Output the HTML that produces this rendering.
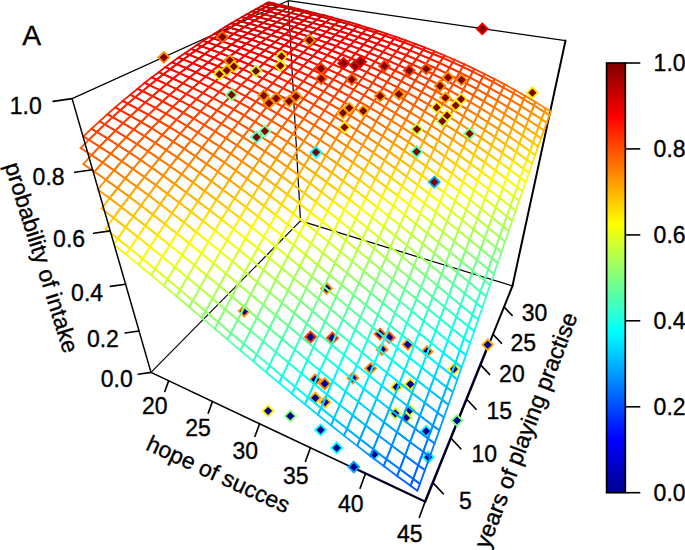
<!DOCTYPE html>
<html><head><meta charset="utf-8"><title>A</title><style>html,body{margin:0;padding:0;background:#fff}</style></head><body><svg width="685" height="550" viewBox="0 0 685 550" style="display:block">
<rect width="685" height="550" fill="#fff"/>
<g id="back">
<line x1="151.0" y1="372.4" x2="300.5" y2="220.9" stroke="#000" stroke-width="1.2" stroke-linecap="butt"/>
<line x1="300.5" y1="220.9" x2="512.5" y2="285.9" stroke="#000" stroke-width="1.2" stroke-linecap="butt"/>
<line x1="300.5" y1="220.9" x2="288.2" y2="0.7" stroke="#000" stroke-width="1.2" stroke-linecap="butt"/>
<line x1="72.1" y1="98.6" x2="288.2" y2="0.7" stroke="#000" stroke-width="1.2" stroke-linecap="butt"/>
<line x1="288.2" y1="0.7" x2="565.5" y2="40.6" stroke="#000" stroke-width="1.2" stroke-linecap="butt"/>
<line x1="512.5" y1="285.9" x2="565.5" y2="40.6" stroke="#000" stroke-width="2.0" stroke-linecap="round"/>
</g>
<g id="axes">
<line x1="354.4" y1="467.6" x2="425.6" y2="501.3" stroke="#00008f" stroke-width="1.2" stroke-linecap="butt"/>
<line x1="424.4" y1="501.7" x2="487.4" y2="345.8" stroke="#00008f" stroke-width="1.3" stroke-linecap="butt"/>
<line x1="151.0" y1="372.4" x2="425.3" y2="502.0" stroke="#000" stroke-width="1.6" stroke-linecap="round"/>
<line x1="425.3" y1="502.0" x2="512.5" y2="285.9" stroke="#000" stroke-width="2.0" stroke-linecap="round"/>
</g>
<g id="bot" stroke-width="1.85" stroke-linejoin="miter">
<path d="M244.2 305.7l5.4 5.4l-5.4 5.4l-5.4 -5.4z" fill="#00008f" stroke="#ff8c00"/>
<path d="M326.6 283.0l5.4 5.4l-5.4 5.4l-5.4 -5.4z" fill="#00008f" stroke="#ff8c00"/>
<path d="M310.6 331.6l5.4 5.4l-5.4 5.4l-5.4 -5.4z" fill="#00008f" stroke="#ff3a00"/>
<path d="M332.4 332.6l5.4 5.4l-5.4 5.4l-5.4 -5.4z" fill="#00008f" stroke="#ff3a00"/>
<path d="M380.0 328.7l5.4 5.4l-5.4 5.4l-5.4 -5.4z" fill="#00008f" stroke="#ff6000"/>
<path d="M389.2 332.1l5.4 5.4l-5.4 5.4l-5.4 -5.4z" fill="#00008f" stroke="#ff6000"/>
<path d="M407.9 339.0l5.4 5.4l-5.4 5.4l-5.4 -5.4z" fill="#00008f" stroke="#ff8c00"/>
<path d="M382.0 344.1l5.4 5.4l-5.4 5.4l-5.4 -5.4z" fill="#00008f" stroke="#ff8c00"/>
<path d="M370.6 363.1l5.4 5.4l-5.4 5.4l-5.4 -5.4z" fill="#00008f" stroke="#ff8c00"/>
<path d="M352.8 372.6l5.4 5.4l-5.4 5.4l-5.4 -5.4z" fill="#00008f" stroke="#ff8c00"/>
<path d="M315.2 374.3l5.4 5.4l-5.4 5.4l-5.4 -5.4z" fill="#00008f" stroke="#ff8c00"/>
<path d="M324.7 378.3l5.4 5.4l-5.4 5.4l-5.4 -5.4z" fill="#00008f" stroke="#ff8c00"/>
<path d="M315.3 392.5l5.4 5.4l-5.4 5.4l-5.4 -5.4z" fill="#00008f" stroke="#ffb000"/>
<path d="M325.1 396.8l5.4 5.4l-5.4 5.4l-5.4 -5.4z" fill="#00008f" stroke="#ffc800"/>
<path d="M396.5 381.7l5.4 5.4l-5.4 5.4l-5.4 -5.4z" fill="#00008f" stroke="#ffee00"/>
<path d="M410.3 378.8l5.4 5.4l-5.4 5.4l-5.4 -5.4z" fill="#00008f" stroke="#ffee00"/>
<path d="M395.3 408.0l5.4 5.4l-5.4 5.4l-5.4 -5.4z" fill="#00008f" stroke="#c8ff32"/>
<path d="M409.8 404.8l5.4 5.4l-5.4 5.4l-5.4 -5.4z" fill="#00008f" stroke="#c8ff32"/>
<path d="M406.0 412.5l5.4 5.4l-5.4 5.4l-5.4 -5.4z" fill="#00008f" stroke="#c8ff32"/>
<path d="M427.1 346.1l5.4 5.4l-5.4 5.4l-5.4 -5.4z" fill="#00008f" stroke="#ff8c00"/>
<path d="M454.0 363.6l5.4 5.4l-5.4 5.4l-5.4 -5.4z" fill="#00008f" stroke="#ffee00"/>
<path d="M487.7 339.4l5.4 5.4l-5.4 5.4l-5.4 -5.4z" fill="#00008f" stroke="#ffb000"/>
<path d="M426.1 425.8l5.4 5.4l-5.4 5.4l-5.4 -5.4z" fill="#00008f" stroke="#00ffff"/>
<path d="M428.2 451.8l5.4 5.4l-5.4 5.4l-5.4 -5.4z" fill="#00008f" stroke="#00ffff"/>
<path d="M457.0 415.1l5.4 5.4l-5.4 5.4l-5.4 -5.4z" fill="#00008f" stroke="#80ff80"/>
<path d="M268.1 405.5l5.4 5.4l-5.4 5.4l-5.4 -5.4z" fill="#00008f" stroke="#ffee00"/>
<path d="M290.3 410.7l5.4 5.4l-5.4 5.4l-5.4 -5.4z" fill="#00008f" stroke="#80ff80"/>
<path d="M320.6 424.5l5.4 5.4l-5.4 5.4l-5.4 -5.4z" fill="#00008f" stroke="#00ffff"/>
<path d="M336.7 442.5l5.4 5.4l-5.4 5.4l-5.4 -5.4z" fill="#00008f" stroke="#00ffff"/>
<path d="M353.8 461.6l5.4 5.4l-5.4 5.4l-5.4 -5.4z" fill="#00008f" stroke="#00a8ff"/>
<path d="M374.3 449.0l5.4 5.4l-5.4 5.4l-5.4 -5.4z" fill="#00008f" stroke="#40ffc8"/>
</g>
<g id="mesh" fill="none" stroke-width="1.8" stroke-linejoin="miter">
<polygon points="83.4,136.4 88.8,139.8 96.9,131.9 91.6,128.7" stroke="#ff4300"/>
<polygon points="91.6,128.7 96.9,131.9 104.8,124.4 99.6,121.3" stroke="#ff3a00"/>
<polygon points="99.6,121.3 104.8,124.4 112.6,117.1 107.5,114.2" stroke="#ff3200"/>
<polygon points="107.5,114.2 112.6,117.1 120.3,110.2 115.2,107.4" stroke="#ff2b00"/>
<polygon points="115.2,107.4 120.3,110.2 127.8,103.6 122.8,100.9" stroke="#ff2400"/>
<polygon points="122.8,100.9 127.8,103.6 135.2,97.2 130.3,94.7" stroke="#ff1d00"/>
<polygon points="130.3,94.7 135.2,97.2 142.5,91.1 137.6,88.7" stroke="#ff1700"/>
<polygon points="137.6,88.7 142.5,91.1 149.6,85.3 144.7,82.9" stroke="#ff1100"/>
<polygon points="144.7,82.9 149.6,85.3 156.6,79.6 151.8,77.4" stroke="#ff0b00"/>
<polygon points="151.8,77.4 156.6,79.6 163.4,74.3 158.7,72.2" stroke="#ff0500"/>
<polygon points="158.7,72.2 163.4,74.3 170.1,69.1 165.4,67.1" stroke="#ff0000"/>
<polygon points="165.4,67.1 170.1,69.1 176.7,64.2 172.0,62.3" stroke="#fb0000"/>
<polygon points="172.0,62.3 176.7,64.2 183.2,59.5 178.5,57.6" stroke="#f60000"/>
<polygon points="178.5,57.6 183.2,59.5 189.5,54.9 184.9,53.2" stroke="#f20000"/>
<polygon points="184.9,53.2 189.5,54.9 195.7,50.6 191.1,48.9" stroke="#ee0000"/>
<polygon points="191.1,48.9 195.7,50.6 201.7,46.4 197.2,44.8" stroke="#ea0000"/>
<polygon points="197.2,44.8 201.7,46.4 207.7,42.4 203.2,40.9" stroke="#e60000"/>
<polygon points="203.2,40.9 207.7,42.4 213.5,38.5 209.1,37.1" stroke="#e30000"/>
<polygon points="209.1,37.1 213.5,38.5 219.2,34.8 214.8,33.4" stroke="#e00000"/>
<polygon points="214.8,33.4 219.2,34.8 224.8,31.2 220.4,29.9" stroke="#dd0000"/>
<polygon points="220.4,29.9 224.8,31.2 230.3,27.8 225.9,26.5" stroke="#da0000"/>
<polygon points="225.9,26.5 230.3,27.8 235.6,24.5 231.3,23.3" stroke="#d80000"/>
<polygon points="231.3,23.3 235.6,24.5 240.9,21.3 236.6,20.2" stroke="#d50000"/>
<polygon points="236.6,20.2 240.9,21.3 246.1,18.2 241.8,17.1" stroke="#d30000"/>
<polygon points="241.8,17.1 246.1,18.2 251.1,15.3 246.9,14.2" stroke="#d10000"/>
<polygon points="246.9,14.2 251.1,15.3 256.0,12.4 251.9,11.4" stroke="#cf0000"/>
<polygon points="251.9,11.4 256.0,12.4 260.9,9.7 256.8,8.7" stroke="#cd0000"/>
<polygon points="256.8,8.7 260.9,9.7 265.6,7.0 261.5,6.1" stroke="#cb0000"/>
<polygon points="261.5,6.1 265.6,7.0 270.3,4.4 266.2,3.5" stroke="#ca0000"/>
<polygon points="266.2,3.5 270.3,4.4 272.6,3.2 268.5,2.3" stroke="#c80000"/>
<polygon points="80.5,148.0 91.5,155.1 99.6,146.7 88.8,139.8" stroke="#ff5700"/>
<polygon points="88.8,139.8 99.6,146.7 107.6,138.5 96.9,131.9" stroke="#ff4e00"/>
<polygon points="96.9,131.9 107.6,138.5 115.4,130.7 104.8,124.4" stroke="#ff4500"/>
<polygon points="104.8,124.4 115.4,130.7 123.1,123.2 112.6,117.1" stroke="#ff3c00"/>
<polygon points="112.6,117.1 123.1,123.2 130.6,116.0 120.3,110.2" stroke="#ff3400"/>
<polygon points="120.3,110.2 130.6,116.0 138.0,109.1 127.8,103.6" stroke="#ff2d00"/>
<polygon points="127.8,103.6 138.0,109.1 145.3,102.5 135.2,97.2" stroke="#ff2500"/>
<polygon points="135.2,97.2 145.3,102.5 152.5,96.1 142.5,91.1" stroke="#ff1f00"/>
<polygon points="142.5,91.1 152.5,96.1 159.5,90.0 149.6,85.3" stroke="#ff1800"/>
<polygon points="149.6,85.3 159.5,90.0 166.4,84.2 156.6,79.6" stroke="#ff1200"/>
<polygon points="156.6,79.6 166.4,84.2 173.1,78.6 163.4,74.3" stroke="#ff0c00"/>
<polygon points="163.4,74.3 173.1,78.6 179.7,73.3 170.1,69.1" stroke="#ff0700"/>
<polygon points="170.1,69.1 179.7,73.3 186.2,68.1 176.7,64.2" stroke="#ff0100"/>
<polygon points="176.7,64.2 186.2,68.1 192.6,63.2 183.2,59.5" stroke="#fc0000"/>
<polygon points="183.2,59.5 192.6,63.2 198.8,58.5 189.5,54.9" stroke="#f70000"/>
<polygon points="189.5,54.9 198.8,58.5 204.9,54.0 195.7,50.6" stroke="#f30000"/>
<polygon points="195.7,50.6 204.9,54.0 210.9,49.6 201.7,46.4" stroke="#ef0000"/>
<polygon points="201.7,46.4 210.9,49.6 216.7,45.5 207.7,42.4" stroke="#eb0000"/>
<polygon points="207.7,42.4 216.7,45.5 222.5,41.5 213.5,38.5" stroke="#e70000"/>
<polygon points="213.5,38.5 222.5,41.5 228.1,37.6 219.2,34.8" stroke="#e40000"/>
<polygon points="219.2,34.8 228.1,37.6 233.6,33.9 224.8,31.2" stroke="#e10000"/>
<polygon points="224.8,31.2 233.6,33.9 239.0,30.4 230.3,27.8" stroke="#de0000"/>
<polygon points="230.3,27.8 239.0,30.4 244.3,27.0 235.6,24.5" stroke="#db0000"/>
<polygon points="235.6,24.5 244.3,27.0 249.5,23.7 240.9,21.3" stroke="#d80000"/>
<polygon points="240.9,21.3 249.5,23.7 254.6,20.5 246.1,18.2" stroke="#d60000"/>
<polygon points="246.1,18.2 254.6,20.5 259.6,17.4 251.1,15.3" stroke="#d40000"/>
<polygon points="251.1,15.3 259.6,17.4 264.5,14.5 256.0,12.4" stroke="#d10000"/>
<polygon points="256.0,12.4 264.5,14.5 269.2,11.6 260.9,9.7" stroke="#cf0000"/>
<polygon points="260.9,9.7 269.2,11.6 273.9,8.9 265.6,7.0" stroke="#ce0000"/>
<polygon points="265.6,7.0 273.9,8.9 278.5,6.2 270.3,4.4" stroke="#cc0000"/>
<polygon points="270.3,4.4 278.5,6.2 280.8,5.0 272.6,3.2" stroke="#ca0000"/>
<polygon points="83.3,164.0 94.5,171.7 102.6,162.6 91.5,155.1" stroke="#ff6d00"/>
<polygon points="91.5,155.1 102.6,162.6 110.6,153.8 99.6,146.7" stroke="#ff6300"/>
<polygon points="99.6,146.7 110.6,153.8 118.4,145.4 107.6,138.5" stroke="#ff5900"/>
<polygon points="107.6,138.5 118.4,145.4 126.1,137.3 115.4,130.7" stroke="#ff5000"/>
<polygon points="115.4,130.7 126.1,137.3 133.7,129.5 123.1,123.2" stroke="#ff4700"/>
<polygon points="123.1,123.2 133.7,129.5 141.1,122.0 130.6,116.0" stroke="#ff3e00"/>
<polygon points="130.6,116.0 141.1,122.0 148.4,114.8 138.0,109.1" stroke="#ff3600"/>
<polygon points="138.0,109.1 148.4,114.8 155.6,108.0 145.3,102.5" stroke="#ff2e00"/>
<polygon points="145.3,102.5 155.6,108.0 162.6,101.4 152.5,96.1" stroke="#ff2700"/>
<polygon points="152.5,96.1 162.6,101.4 169.5,95.0 159.5,90.0" stroke="#ff2000"/>
<polygon points="159.5,90.0 169.5,95.0 176.3,89.0 166.4,84.2" stroke="#ff1a00"/>
<polygon points="166.4,84.2 176.3,89.0 182.9,83.2 173.1,78.6" stroke="#ff1300"/>
<polygon points="173.1,78.6 182.9,83.2 189.4,77.6 179.7,73.3" stroke="#ff0d00"/>
<polygon points="179.7,73.3 189.4,77.6 195.8,72.3 186.2,68.1" stroke="#ff0800"/>
<polygon points="186.2,68.1 195.8,72.3 202.1,67.2 192.6,63.2" stroke="#ff0300"/>
<polygon points="192.6,63.2 202.1,67.2 208.2,62.3 198.8,58.5" stroke="#fd0000"/>
<polygon points="198.8,58.5 208.2,62.3 214.2,57.6 204.9,54.0" stroke="#f80000"/>
<polygon points="204.9,54.0 214.2,57.6 220.1,53.1 210.9,49.6" stroke="#f40000"/>
<polygon points="210.9,49.6 220.1,53.1 225.9,48.7 216.7,45.5" stroke="#f00000"/>
<polygon points="216.7,45.5 225.9,48.7 231.6,44.6 222.5,41.5" stroke="#ec0000"/>
<polygon points="222.5,41.5 231.6,44.6 237.1,40.6 228.1,37.6" stroke="#e80000"/>
<polygon points="228.1,37.6 237.1,40.6 242.6,36.8 233.6,33.9" stroke="#e50000"/>
<polygon points="233.6,33.9 242.6,36.8 247.9,33.1 239.0,30.4" stroke="#e10000"/>
<polygon points="239.0,30.4 247.9,33.1 253.1,29.5 244.3,27.0" stroke="#de0000"/>
<polygon points="244.3,27.0 253.1,29.5 258.2,26.1 249.5,23.7" stroke="#dc0000"/>
<polygon points="249.5,23.7 258.2,26.1 263.2,22.9 254.6,20.5" stroke="#d90000"/>
<polygon points="254.6,20.5 263.2,22.9 268.2,19.7 259.6,17.4" stroke="#d60000"/>
<polygon points="259.6,17.4 268.2,19.7 273.0,16.7 264.5,14.5" stroke="#d40000"/>
<polygon points="264.5,14.5 273.0,16.7 277.7,13.7 269.2,11.6" stroke="#d20000"/>
<polygon points="269.2,11.6 277.7,13.7 282.3,10.9 273.9,8.9" stroke="#d00000"/>
<polygon points="273.9,8.9 282.3,10.9 286.8,8.2 278.5,6.2" stroke="#ce0000"/>
<polygon points="278.5,6.2 286.8,8.2 289.1,6.8 280.8,5.0" stroke="#cc0000"/>
<polygon points="94.5,171.7 106.0,179.8 113.9,170.3 102.6,162.6" stroke="#ff7b00"/>
<polygon points="102.6,162.6 113.9,170.3 121.7,161.3 110.6,153.8" stroke="#ff7000"/>
<polygon points="110.6,153.8 121.7,161.3 129.4,152.5 118.4,145.4" stroke="#ff6500"/>
<polygon points="118.4,145.4 129.4,152.5 137.0,144.1 126.1,137.3" stroke="#ff5b00"/>
<polygon points="126.1,137.3 137.0,144.1 144.4,136.1 133.7,129.5" stroke="#ff5200"/>
<polygon points="133.7,129.5 144.4,136.1 151.7,128.3 141.1,122.0" stroke="#ff4900"/>
<polygon points="141.1,122.0 151.7,128.3 158.9,120.9 148.4,114.8" stroke="#ff4000"/>
<polygon points="148.4,114.8 158.9,120.9 165.9,113.7 155.6,108.0" stroke="#ff3800"/>
<polygon points="155.6,108.0 165.9,113.7 172.8,106.9 162.6,101.4" stroke="#ff3000"/>
<polygon points="162.6,101.4 172.8,106.9 179.6,100.3 169.5,95.0" stroke="#ff2900"/>
<polygon points="169.5,95.0 179.6,100.3 186.3,94.0 176.3,89.0" stroke="#ff2200"/>
<polygon points="176.3,89.0 186.3,94.0 192.8,88.0 182.9,83.2" stroke="#ff1b00"/>
<polygon points="182.9,83.2 192.8,88.0 199.2,82.2 189.4,77.6" stroke="#ff1500"/>
<polygon points="189.4,77.6 199.2,82.2 205.5,76.6 195.8,72.3" stroke="#ff0f00"/>
<polygon points="195.8,72.3 205.5,76.6 211.7,71.3 202.1,67.2" stroke="#ff0900"/>
<polygon points="202.1,67.2 211.7,71.3 217.8,66.2 208.2,62.3" stroke="#ff0400"/>
<polygon points="208.2,62.3 217.8,66.2 223.7,61.3 214.2,57.6" stroke="#fe0000"/>
<polygon points="214.2,57.6 223.7,61.3 229.5,56.7 220.1,53.1" stroke="#f90000"/>
<polygon points="220.1,53.1 229.5,56.7 235.2,52.2 225.9,48.7" stroke="#f50000"/>
<polygon points="225.9,48.7 235.2,52.2 240.8,47.8 231.6,44.6" stroke="#f00000"/>
<polygon points="231.6,44.6 240.8,47.8 246.3,43.7 237.1,40.6" stroke="#ed0000"/>
<polygon points="237.1,40.6 246.3,43.7 251.6,39.7 242.6,36.8" stroke="#e90000"/>
<polygon points="242.6,36.8 251.6,39.7 256.9,35.9 247.9,33.1" stroke="#e50000"/>
<polygon points="247.9,33.1 256.9,35.9 262.0,32.2 253.1,29.5" stroke="#e20000"/>
<polygon points="253.1,29.5 262.0,32.2 267.1,28.7 258.2,26.1" stroke="#df0000"/>
<polygon points="258.2,26.1 267.1,28.7 272.0,25.3 263.2,22.9" stroke="#dc0000"/>
<polygon points="263.2,22.9 272.0,25.3 276.8,22.1 268.2,19.7" stroke="#da0000"/>
<polygon points="268.2,19.7 276.8,22.1 281.6,18.9 273.0,16.7" stroke="#d70000"/>
<polygon points="273.0,16.7 281.6,18.9 286.2,15.9 277.7,13.7" stroke="#d50000"/>
<polygon points="277.7,13.7 286.2,15.9 290.8,13.0 282.3,10.9" stroke="#d20000"/>
<polygon points="282.3,10.9 290.8,13.0 295.3,10.1 286.8,8.2" stroke="#d00000"/>
<polygon points="286.8,8.2 295.3,10.1 297.4,8.8 289.1,6.8" stroke="#ce0000"/>
<polygon points="97.9,189.6 109.6,198.2 117.5,188.1 106.0,179.8" stroke="#ff9400"/>
<polygon points="106.0,179.8 117.5,188.1 125.3,178.4 113.9,170.3" stroke="#ff8900"/>
<polygon points="113.9,170.3 125.3,178.4 133.0,169.0 121.7,161.3" stroke="#ff7d00"/>
<polygon points="121.7,161.3 133.0,169.0 140.5,160.0 129.4,152.5" stroke="#ff7200"/>
<polygon points="129.4,152.5 140.5,160.0 148.0,151.3 137.0,144.1" stroke="#ff6800"/>
<polygon points="137.0,144.1 148.0,151.3 155.3,142.9 144.4,136.1" stroke="#ff5e00"/>
<polygon points="144.4,136.1 155.3,142.9 162.4,134.9 151.7,128.3" stroke="#ff5400"/>
<polygon points="151.7,128.3 162.4,134.9 169.5,127.1 158.9,120.9" stroke="#ff4b00"/>
<polygon points="158.9,120.9 169.5,127.1 176.4,119.7 165.9,113.7" stroke="#ff4200"/>
<polygon points="165.9,113.7 176.4,119.7 183.2,112.6 172.8,106.9" stroke="#ff3a00"/>
<polygon points="172.8,106.9 183.2,112.6 189.9,105.8 179.6,100.3" stroke="#ff3200"/>
<polygon points="179.6,100.3 189.9,105.8 196.4,99.2 186.3,94.0" stroke="#ff2a00"/>
<polygon points="186.3,94.0 196.4,99.2 202.9,93.0 192.8,88.0" stroke="#ff2300"/>
<polygon points="192.8,88.0 202.9,93.0 209.2,87.0 199.2,82.2" stroke="#ff1c00"/>
<polygon points="199.2,82.2 209.2,87.0 215.4,81.2 205.5,76.6" stroke="#ff1600"/>
<polygon points="205.5,76.6 215.4,81.2 221.5,75.7 211.7,71.3" stroke="#ff1000"/>
<polygon points="211.7,71.3 221.5,75.7 227.4,70.4 217.8,66.2" stroke="#ff0a00"/>
<polygon points="217.8,66.2 227.4,70.4 233.3,65.3 223.7,61.3" stroke="#ff0500"/>
<polygon points="223.7,61.3 233.3,65.3 239.0,60.4 229.5,56.7" stroke="#ff0000"/>
<polygon points="229.5,56.7 239.0,60.4 244.6,55.7 235.2,52.2" stroke="#fa0000"/>
<polygon points="235.2,52.2 244.6,55.7 250.1,51.3 240.8,47.8" stroke="#f60000"/>
<polygon points="240.8,47.8 250.1,51.3 255.5,47.0 246.3,43.7" stroke="#f10000"/>
<polygon points="246.3,43.7 255.5,47.0 260.8,42.8 251.6,39.7" stroke="#ed0000"/>
<polygon points="251.6,39.7 260.8,42.8 265.9,38.9 256.9,35.9" stroke="#ea0000"/>
<polygon points="256.9,35.9 265.9,38.9 271.0,35.1 262.0,32.2" stroke="#e60000"/>
<polygon points="262.0,32.2 271.0,35.1 276.0,31.4 267.1,28.7" stroke="#e30000"/>
<polygon points="267.1,28.7 276.0,31.4 280.9,27.9 272.0,25.3" stroke="#e00000"/>
<polygon points="272.0,25.3 280.9,27.9 285.6,24.5 276.8,22.1" stroke="#dd0000"/>
<polygon points="276.8,22.1 285.6,24.5 290.3,21.3 281.6,18.9" stroke="#da0000"/>
<polygon points="281.6,18.9 290.3,21.3 294.9,18.1 286.2,15.9" stroke="#d80000"/>
<polygon points="286.2,15.9 294.9,18.1 299.4,15.1 290.8,13.0" stroke="#d50000"/>
<polygon points="290.8,13.0 299.4,15.1 303.8,12.2 295.3,10.1" stroke="#d30000"/>
<polygon points="295.3,10.1 303.8,12.2 305.9,10.8 297.4,8.8" stroke="#d10000"/>
<polygon points="101.5,208.6 113.5,217.8 121.4,207.1 109.6,198.2" stroke="#ffb100"/>
<polygon points="109.6,198.2 121.4,207.1 129.2,196.7 117.5,188.1" stroke="#ffa400"/>
<polygon points="117.5,188.1 129.2,196.7 136.8,186.7 125.3,178.4" stroke="#ff9700"/>
<polygon points="125.3,178.4 136.8,186.7 144.4,177.0 133.0,169.0" stroke="#ff8b00"/>
<polygon points="133.0,169.0 144.4,177.0 151.8,167.7 140.5,160.0" stroke="#ff8000"/>
<polygon points="140.5,160.0 151.8,167.7 159.1,158.7 148.0,151.3" stroke="#ff7500"/>
<polygon points="148.0,151.3 159.1,158.7 166.2,150.0 155.3,142.9" stroke="#ff6a00"/>
<polygon points="155.3,142.9 166.2,150.0 173.3,141.7 162.4,134.9" stroke="#ff6000"/>
<polygon points="162.4,134.9 173.3,141.7 180.2,133.7 169.5,127.1" stroke="#ff5600"/>
<polygon points="169.5,127.1 180.2,133.7 187.0,126.0 176.4,119.7" stroke="#ff4d00"/>
<polygon points="176.4,119.7 187.0,126.0 193.7,118.6 183.2,112.6" stroke="#ff4400"/>
<polygon points="183.2,112.6 193.7,118.6 200.3,111.5 189.9,105.8" stroke="#ff3c00"/>
<polygon points="189.9,105.8 200.3,111.5 206.7,104.7 196.4,99.2" stroke="#ff3400"/>
<polygon points="196.4,99.2 206.7,104.7 213.1,98.2 202.9,93.0" stroke="#ff2c00"/>
<polygon points="202.9,93.0 213.1,98.2 219.3,92.0 209.2,87.0" stroke="#ff2500"/>
<polygon points="209.2,87.0 219.3,92.0 225.4,86.0 215.4,81.2" stroke="#ff1e00"/>
<polygon points="215.4,81.2 225.4,86.0 231.3,80.2 221.5,75.7" stroke="#ff1800"/>
<polygon points="221.5,75.7 231.3,80.2 237.2,74.7 227.4,70.4" stroke="#ff1100"/>
<polygon points="227.4,70.4 237.2,74.7 243.0,69.4 233.3,65.3" stroke="#ff0c00"/>
<polygon points="233.3,65.3 243.0,69.4 248.6,64.4 239.0,60.4" stroke="#ff0600"/>
<polygon points="239.0,60.4 248.6,64.4 254.1,59.5 244.6,55.7" stroke="#ff0100"/>
<polygon points="244.6,55.7 254.1,59.5 259.5,54.9 250.1,51.3" stroke="#fb0000"/>
<polygon points="250.1,51.3 259.5,54.9 264.8,50.4 255.5,47.0" stroke="#f70000"/>
<polygon points="255.5,47.0 264.8,50.4 270.0,46.1 260.8,42.8" stroke="#f20000"/>
<polygon points="260.8,42.8 270.0,46.1 275.1,42.0 265.9,38.9" stroke="#ee0000"/>
<polygon points="265.9,38.9 275.1,42.0 280.1,38.0 271.0,35.1" stroke="#eb0000"/>
<polygon points="271.0,35.1 280.1,38.0 285.0,34.3 276.0,31.4" stroke="#e70000"/>
<polygon points="276.0,31.4 285.0,34.3 289.8,30.6 280.9,27.9" stroke="#e40000"/>
<polygon points="280.9,27.9 289.8,30.6 294.5,27.1 285.6,24.5" stroke="#e00000"/>
<polygon points="285.6,24.5 294.5,27.1 299.1,23.7 290.3,21.3" stroke="#de0000"/>
<polygon points="290.3,21.3 299.1,23.7 303.6,20.5 294.9,18.1" stroke="#db0000"/>
<polygon points="294.9,18.1 303.6,20.5 308.0,17.4 299.4,15.1" stroke="#d80000"/>
<polygon points="299.4,15.1 308.0,17.4 312.4,14.4 303.8,12.2" stroke="#d60000"/>
<polygon points="303.8,12.2 312.4,14.4 314.5,12.9 305.9,10.8" stroke="#d30000"/>
<polygon points="105.5,228.9 117.7,238.6 125.6,227.3 113.5,217.8" stroke="#ffcf00"/>
<polygon points="113.5,217.8 125.6,227.3 133.3,216.2 121.4,207.1" stroke="#ffc100"/>
<polygon points="121.4,207.1 133.3,216.2 141.0,205.6 129.2,196.7" stroke="#ffb400"/>
<polygon points="129.2,196.7 141.0,205.6 148.5,195.3 136.8,186.7" stroke="#ffa700"/>
<polygon points="136.8,186.7 148.5,195.3 155.9,185.3 144.4,177.0" stroke="#ff9a00"/>
<polygon points="144.4,177.0 155.9,185.3 163.2,175.7 151.8,167.7" stroke="#ff8e00"/>
<polygon points="151.8,167.7 163.2,175.7 170.3,166.4 159.1,158.7" stroke="#ff8200"/>
<polygon points="159.1,158.7 170.3,166.4 177.4,157.4 166.2,150.0" stroke="#ff7700"/>
<polygon points="166.2,150.0 177.4,157.4 184.3,148.8 173.3,141.7" stroke="#ff6c00"/>
<polygon points="173.3,141.7 184.3,148.8 191.1,140.5 180.2,133.7" stroke="#ff6200"/>
<polygon points="180.2,133.7 191.1,140.5 197.8,132.6 187.0,126.0" stroke="#ff5800"/>
<polygon points="187.0,126.0 197.8,132.6 204.3,124.9 193.7,118.6" stroke="#ff4f00"/>
<polygon points="193.7,118.6 204.3,124.9 210.8,117.5 200.3,111.5" stroke="#ff4600"/>
<polygon points="200.3,111.5 210.8,117.5 217.1,110.5 206.7,104.7" stroke="#ff3d00"/>
<polygon points="206.7,104.7 217.1,110.5 223.4,103.7 213.1,98.2" stroke="#ff3500"/>
<polygon points="213.1,98.2 223.4,103.7 229.5,97.2 219.3,92.0" stroke="#ff2e00"/>
<polygon points="219.3,92.0 229.5,97.2 235.5,91.0 225.4,86.0" stroke="#ff2600"/>
<polygon points="225.4,86.0 235.5,91.0 241.3,85.0 231.3,80.2" stroke="#ff2000"/>
<polygon points="231.3,80.2 241.3,85.0 247.1,79.3 237.2,74.7" stroke="#ff1900"/>
<polygon points="237.2,74.7 247.1,79.3 252.8,73.8 243.0,69.4" stroke="#ff1300"/>
<polygon points="243.0,69.4 252.8,73.8 258.3,68.5 248.6,64.4" stroke="#ff0d00"/>
<polygon points="248.6,64.4 258.3,68.5 263.7,63.5 254.1,59.5" stroke="#ff0700"/>
<polygon points="254.1,59.5 263.7,63.5 269.1,58.6 259.5,54.9" stroke="#ff0200"/>
<polygon points="259.5,54.9 269.1,58.6 274.3,54.0 264.8,50.4" stroke="#fc0000"/>
<polygon points="264.8,50.4 274.3,54.0 279.4,49.5 270.0,46.1" stroke="#f80000"/>
<polygon points="270.0,46.1 279.4,49.5 284.4,45.3 275.1,42.0" stroke="#f30000"/>
<polygon points="275.1,42.0 284.4,45.3 289.3,41.2 280.1,38.0" stroke="#ef0000"/>
<polygon points="280.1,38.0 289.3,41.2 294.2,37.2 285.0,34.3" stroke="#eb0000"/>
<polygon points="285.0,34.3 294.2,37.2 298.9,33.4 289.8,30.6" stroke="#e80000"/>
<polygon points="289.8,30.6 298.9,33.4 303.5,29.8 294.5,27.1" stroke="#e40000"/>
<polygon points="294.5,27.1 303.5,29.8 308.0,26.3 299.1,23.7" stroke="#e10000"/>
<polygon points="299.1,23.7 308.0,26.3 312.5,23.0 303.6,20.5" stroke="#de0000"/>
<polygon points="303.6,20.5 312.5,23.0 316.8,19.7 308.0,17.4" stroke="#db0000"/>
<polygon points="308.0,17.4 316.8,19.7 321.1,16.6 312.4,14.4" stroke="#d90000"/>
<polygon points="312.4,14.4 321.1,16.6 323.2,15.1 314.5,12.9" stroke="#d60000"/>
<polygon points="113.7,244.4 126.1,254.5 130.0,248.5 117.7,238.6" stroke="#ffef00"/>
<polygon points="117.7,238.6 130.0,248.5 137.8,236.9 125.6,227.3" stroke="#ffe000"/>
<polygon points="125.6,227.3 137.8,236.9 145.4,225.6 133.3,216.2" stroke="#ffd200"/>
<polygon points="133.3,216.2 145.4,225.6 152.9,214.7 141.0,205.6" stroke="#ffc400"/>
<polygon points="141.0,205.6 152.9,214.7 160.3,204.1 148.5,195.3" stroke="#ffb700"/>
<polygon points="148.5,195.3 160.3,204.1 167.5,193.8 155.9,185.3" stroke="#ffa900"/>
<polygon points="155.9,185.3 167.5,193.8 174.7,183.9 163.2,175.7" stroke="#ff9d00"/>
<polygon points="163.2,175.7 174.7,183.9 181.7,174.3 170.3,166.4" stroke="#ff9100"/>
<polygon points="170.3,166.4 181.7,174.3 188.6,165.1 177.4,157.4" stroke="#ff8500"/>
<polygon points="177.4,157.4 188.6,165.1 195.4,156.2 184.3,148.8" stroke="#ff7a00"/>
<polygon points="184.3,148.8 195.4,156.2 202.1,147.6 191.1,140.5" stroke="#ff6f00"/>
<polygon points="191.1,140.5 202.1,147.6 208.6,139.4 197.8,132.6" stroke="#ff6400"/>
<polygon points="197.8,132.6 208.6,139.4 215.1,131.4 204.3,124.9" stroke="#ff5a00"/>
<polygon points="204.3,124.9 215.1,131.4 221.4,123.8 210.8,117.5" stroke="#ff5100"/>
<polygon points="210.8,117.5 221.4,123.8 227.7,116.5 217.1,110.5" stroke="#ff4800"/>
<polygon points="217.1,110.5 227.7,116.5 233.8,109.4 223.4,103.7" stroke="#ff3f00"/>
<polygon points="223.4,103.7 233.8,109.4 239.8,102.7 229.5,97.2" stroke="#ff3700"/>
<polygon points="229.5,97.2 239.8,102.7 245.7,96.2 235.5,91.0" stroke="#ff2f00"/>
<polygon points="235.5,91.0 245.7,96.2 251.4,90.0 241.3,85.0" stroke="#ff2800"/>
<polygon points="241.3,85.0 251.4,90.0 257.1,84.0 247.1,79.3" stroke="#ff2100"/>
<polygon points="247.1,79.3 257.1,84.0 262.7,78.3 252.8,73.8" stroke="#ff1a00"/>
<polygon points="252.8,73.8 262.7,78.3 268.1,72.9 258.3,68.5" stroke="#ff1400"/>
<polygon points="258.3,68.5 268.1,72.9 273.5,67.6 263.7,63.5" stroke="#ff0e00"/>
<polygon points="263.7,63.5 273.5,67.6 278.7,62.6 269.1,58.6" stroke="#ff0900"/>
<polygon points="269.1,58.6 278.7,62.6 283.9,57.7 274.3,54.0" stroke="#ff0300"/>
<polygon points="274.3,54.0 283.9,57.7 288.9,53.1 279.4,49.5" stroke="#fd0000"/>
<polygon points="279.4,49.5 288.9,53.1 293.8,48.7 284.4,45.3" stroke="#f90000"/>
<polygon points="284.4,45.3 293.8,48.7 298.7,44.4 289.3,41.2" stroke="#f40000"/>
<polygon points="289.3,41.2 298.7,44.4 303.4,40.3 294.2,37.2" stroke="#f00000"/>
<polygon points="294.2,37.2 303.4,40.3 308.1,36.4 298.9,33.4" stroke="#ec0000"/>
<polygon points="298.9,33.4 308.1,36.4 312.6,32.6 303.5,29.8" stroke="#e90000"/>
<polygon points="303.5,29.8 312.6,32.6 317.1,29.0 308.0,26.3" stroke="#e50000"/>
<polygon points="308.0,26.3 317.1,29.0 321.4,25.5 312.5,23.0" stroke="#e20000"/>
<polygon points="312.5,23.0 321.4,25.5 325.7,22.2 316.8,19.7" stroke="#df0000"/>
<polygon points="316.8,19.7 325.7,22.2 329.9,19.0 321.1,16.6" stroke="#dc0000"/>
<polygon points="321.1,16.6 329.9,19.0 332.0,17.4 323.2,15.1" stroke="#d90000"/>
<polygon points="126.1,254.5 138.6,264.7 142.5,258.7 130.0,248.5" stroke="#fcff03"/>
<polygon points="130.0,248.5 142.5,258.7 150.1,246.8 137.8,236.9" stroke="#fff300"/>
<polygon points="137.8,236.9 150.1,246.8 157.5,235.2 145.4,225.6" stroke="#ffe400"/>
<polygon points="145.4,225.6 157.5,235.2 164.9,224.0 152.9,214.7" stroke="#ffd500"/>
<polygon points="152.9,214.7 164.9,224.0 172.1,213.2 160.3,204.1" stroke="#ffc700"/>
<polygon points="160.3,204.1 172.1,213.2 179.2,202.6 167.5,193.8" stroke="#ffba00"/>
<polygon points="167.5,193.8 179.2,202.6 186.3,192.4 174.7,183.9" stroke="#ffac00"/>
<polygon points="174.7,183.9 186.3,192.4 193.1,182.6 181.7,174.3" stroke="#ffa000"/>
<polygon points="181.7,174.3 193.1,182.6 199.9,173.1 188.6,165.1" stroke="#ff9300"/>
<polygon points="188.6,165.1 199.9,173.1 206.6,163.9 195.4,156.2" stroke="#ff8800"/>
<polygon points="195.4,156.2 206.6,163.9 213.2,155.0 202.1,147.6" stroke="#ff7c00"/>
<polygon points="202.1,147.6 213.2,155.0 219.6,146.5 208.6,139.4" stroke="#ff7100"/>
<polygon points="208.6,139.4 219.6,146.5 225.9,138.2 215.1,131.4" stroke="#ff6700"/>
<polygon points="215.1,131.4 225.9,138.2 232.2,130.3 221.4,123.8" stroke="#ff5d00"/>
<polygon points="221.4,123.8 232.2,130.3 238.3,122.7 227.7,116.5" stroke="#ff5300"/>
<polygon points="227.7,116.5 238.3,122.7 244.3,115.4 233.8,109.4" stroke="#ff4a00"/>
<polygon points="233.8,109.4 244.3,115.4 250.2,108.4 239.8,102.7" stroke="#ff4100"/>
<polygon points="239.8,102.7 250.2,108.4 256.0,101.7 245.7,96.2" stroke="#ff3900"/>
<polygon points="245.7,96.2 256.0,101.7 261.7,95.2 251.4,90.0" stroke="#ff3100"/>
<polygon points="251.4,90.0 261.7,95.2 267.2,89.0 257.1,84.0" stroke="#ff2a00"/>
<polygon points="257.1,84.0 267.2,89.0 272.7,83.1 262.7,78.3" stroke="#ff2300"/>
<polygon points="262.7,78.3 272.7,83.1 278.1,77.4 268.1,72.9" stroke="#ff1c00"/>
<polygon points="268.1,72.9 278.1,77.4 283.3,71.9 273.5,67.6" stroke="#ff1600"/>
<polygon points="273.5,67.6 283.3,71.9 288.5,66.7 278.7,62.6" stroke="#ff1000"/>
<polygon points="278.7,62.6 288.5,66.7 293.5,61.7 283.9,57.7" stroke="#ff0a00"/>
<polygon points="283.9,57.7 293.5,61.7 298.5,56.9 288.9,53.1" stroke="#ff0500"/>
<polygon points="288.9,53.1 298.5,56.9 303.3,52.3 293.8,48.7" stroke="#fe0000"/>
<polygon points="293.8,48.7 303.3,52.3 308.1,47.8 298.7,44.4" stroke="#fa0000"/>
<polygon points="298.7,44.4 308.1,47.8 312.8,43.6 303.4,40.3" stroke="#f50000"/>
<polygon points="303.4,40.3 312.8,43.6 317.3,39.5 308.1,36.4" stroke="#f10000"/>
<polygon points="308.1,36.4 317.3,39.5 321.8,35.6 312.6,32.6" stroke="#ed0000"/>
<polygon points="312.6,32.6 321.8,35.6 326.2,31.9 317.1,29.0" stroke="#e90000"/>
<polygon points="317.1,29.0 326.2,31.9 330.5,28.2 321.4,25.5" stroke="#e60000"/>
<polygon points="321.4,25.5 330.5,28.2 334.7,24.8 325.7,22.2" stroke="#e30000"/>
<polygon points="325.7,22.2 334.7,24.8 338.8,21.4 329.9,19.0" stroke="#e00000"/>
<polygon points="329.9,19.0 338.8,21.4 340.8,19.8 332.0,17.4" stroke="#dd0000"/>
<polygon points="138.6,264.7 151.2,275.1 155.0,268.9 142.5,258.7" stroke="#e9ff16"/>
<polygon points="142.5,258.7 155.0,268.9 162.4,256.8 150.1,246.8" stroke="#f9ff06"/>
<polygon points="150.1,246.8 162.4,256.8 169.8,245.1 157.5,235.2" stroke="#fff600"/>
<polygon points="157.5,235.2 169.8,245.1 177.0,233.6 164.9,224.0" stroke="#ffe700"/>
<polygon points="164.9,224.0 177.0,233.6 184.1,222.5 172.1,213.2" stroke="#ffd900"/>
<polygon points="172.1,213.2 184.1,222.5 191.1,211.7 179.2,202.6" stroke="#ffca00"/>
<polygon points="179.2,202.6 191.1,211.7 197.9,201.2 186.3,192.4" stroke="#ffbd00"/>
<polygon points="186.3,192.4 197.9,201.2 204.7,191.1 193.1,182.6" stroke="#ffaf00"/>
<polygon points="193.1,182.6 204.7,191.1 211.4,181.3 199.9,173.1" stroke="#ffa300"/>
<polygon points="199.9,173.1 211.4,181.3 217.9,171.8 206.6,163.9" stroke="#ff9600"/>
<polygon points="206.6,163.9 217.9,171.8 224.4,162.6 213.2,155.0" stroke="#ff8a00"/>
<polygon points="213.2,155.0 224.4,162.6 230.7,153.8 219.6,146.5" stroke="#ff7f00"/>
<polygon points="219.6,146.5 230.7,153.8 236.9,145.3 225.9,138.2" stroke="#ff7400"/>
<polygon points="225.9,138.2 236.9,145.3 243.0,137.1 232.2,130.3" stroke="#ff6900"/>
<polygon points="232.2,130.3 243.0,137.1 249.0,129.3 238.3,122.7" stroke="#ff5f00"/>
<polygon points="238.3,122.7 249.0,129.3 254.9,121.7 244.3,115.4" stroke="#ff5500"/>
<polygon points="244.3,115.4 254.9,121.7 260.7,114.4 250.2,108.4" stroke="#ff4c00"/>
<polygon points="250.2,108.4 260.7,114.4 266.4,107.4 256.0,101.7" stroke="#ff4300"/>
<polygon points="256.0,101.7 266.4,107.4 272.0,100.7 261.7,95.2" stroke="#ff3b00"/>
<polygon points="261.7,95.2 272.0,100.7 277.5,94.3 267.2,89.0" stroke="#ff3300"/>
<polygon points="267.2,89.0 277.5,94.3 282.9,88.1 272.7,83.1" stroke="#ff2b00"/>
<polygon points="272.7,83.1 282.9,88.1 288.1,82.2 278.1,77.4" stroke="#ff2400"/>
<polygon points="278.1,77.4 288.1,82.2 293.3,76.5 283.3,71.9" stroke="#ff1d00"/>
<polygon points="283.3,71.9 293.3,76.5 298.4,71.1 288.5,66.7" stroke="#ff1700"/>
<polygon points="288.5,66.7 298.4,71.1 303.3,65.8 293.5,61.7" stroke="#ff1100"/>
<polygon points="293.5,61.7 303.3,65.8 308.2,60.8 298.5,56.9" stroke="#ff0b00"/>
<polygon points="298.5,56.9 308.2,60.8 313.0,56.0 303.3,52.3" stroke="#ff0600"/>
<polygon points="303.3,52.3 313.0,56.0 317.6,51.4 308.1,47.8" stroke="#ff0100"/>
<polygon points="308.1,47.8 317.6,51.4 322.2,47.0 312.8,43.6" stroke="#fb0000"/>
<polygon points="312.8,43.6 322.2,47.0 326.7,42.8 317.3,39.5" stroke="#f60000"/>
<polygon points="317.3,39.5 326.7,42.8 331.1,38.7 321.8,35.6" stroke="#f20000"/>
<polygon points="321.8,35.6 331.1,38.7 335.4,34.8 326.2,31.9" stroke="#ee0000"/>
<polygon points="326.2,31.9 335.4,34.8 339.6,31.1 330.5,28.2" stroke="#ea0000"/>
<polygon points="330.5,28.2 339.6,31.1 343.8,27.5 334.7,24.8" stroke="#e70000"/>
<polygon points="334.7,24.8 343.8,27.5 347.8,24.0 338.8,21.4" stroke="#e30000"/>
<polygon points="338.8,21.4 347.8,24.0 349.8,22.3 340.8,19.8" stroke="#e00000"/>
<polygon points="151.2,275.1 163.8,285.6 167.5,279.4 155.0,268.9" stroke="#d5ff2a"/>
<polygon points="155.0,268.9 167.5,279.4 174.9,267.1 162.4,256.8" stroke="#e5ff1a"/>
<polygon points="162.4,256.8 174.9,267.1 182.1,255.1 169.8,245.1" stroke="#f5ff0a"/>
<polygon points="169.8,245.1 182.1,255.1 189.1,243.4 177.0,233.6" stroke="#fffa00"/>
<polygon points="177.0,233.6 189.1,243.4 196.1,232.0 184.1,222.5" stroke="#ffeb00"/>
<polygon points="184.1,222.5 196.1,232.0 203.0,220.9 191.1,211.7" stroke="#ffdc00"/>
<polygon points="191.1,211.7 203.0,220.9 209.7,210.2 197.9,201.2" stroke="#ffce00"/>
<polygon points="197.9,201.2 209.7,210.2 216.4,199.8 204.7,191.1" stroke="#ffc000"/>
<polygon points="204.7,191.1 216.4,199.8 222.9,189.7 211.4,181.3" stroke="#ffb200"/>
<polygon points="211.4,181.3 222.9,189.7 229.3,180.0 217.9,171.8" stroke="#ffa500"/>
<polygon points="217.9,171.8 229.3,180.0 235.7,170.6 224.4,162.6" stroke="#ff9900"/>
<polygon points="224.4,162.6 235.7,170.6 241.9,161.5 230.7,153.8" stroke="#ff8d00"/>
<polygon points="230.7,153.8 241.9,161.5 248.0,152.7 236.9,145.3" stroke="#ff8100"/>
<polygon points="236.9,145.3 248.0,152.7 254.0,144.2 243.0,137.1" stroke="#ff7600"/>
<polygon points="243.0,137.1 254.0,144.2 259.9,136.1 249.0,129.3" stroke="#ff6b00"/>
<polygon points="249.0,129.3 259.9,136.1 265.7,128.2 254.9,121.7" stroke="#ff6100"/>
<polygon points="254.9,121.7 265.7,128.2 271.4,120.7 260.7,114.4" stroke="#ff5700"/>
<polygon points="260.7,114.4 271.4,120.7 276.9,113.4 266.4,107.4" stroke="#ff4e00"/>
<polygon points="266.4,107.4 276.9,113.4 282.4,106.5 272.0,100.7" stroke="#ff4500"/>
<polygon points="272.0,100.7 282.4,106.5 287.8,99.8 277.5,94.3" stroke="#ff3d00"/>
<polygon points="277.5,94.3 287.8,99.8 293.1,93.3 282.9,88.1" stroke="#ff3500"/>
<polygon points="282.9,88.1 293.1,93.3 298.3,87.2 288.1,82.2" stroke="#ff2d00"/>
<polygon points="288.1,82.2 298.3,87.2 303.3,81.3 293.3,76.5" stroke="#ff2600"/>
<polygon points="293.3,76.5 303.3,81.3 308.3,75.6 298.4,71.1" stroke="#ff1f00"/>
<polygon points="298.4,71.1 308.3,75.6 313.2,70.2 303.3,65.8" stroke="#ff1800"/>
<polygon points="303.3,65.8 313.2,70.2 318.0,65.0 308.2,60.8" stroke="#ff1200"/>
<polygon points="308.2,60.8 318.0,65.0 322.7,60.0 313.0,56.0" stroke="#ff0c00"/>
<polygon points="313.0,56.0 322.7,60.0 327.3,55.2 317.6,51.4" stroke="#ff0700"/>
<polygon points="317.6,51.4 327.3,55.2 331.8,50.6 322.2,47.0" stroke="#ff0200"/>
<polygon points="322.2,47.0 331.8,50.6 336.2,46.2 326.7,42.8" stroke="#fc0000"/>
<polygon points="326.7,42.8 336.2,46.2 340.5,42.0 331.1,38.7" stroke="#f70000"/>
<polygon points="331.1,38.7 340.5,42.0 344.7,37.9 335.4,34.8" stroke="#f30000"/>
<polygon points="335.4,34.8 344.7,37.9 348.9,34.1 339.6,31.1" stroke="#ef0000"/>
<polygon points="339.6,31.1 348.9,34.1 352.9,30.3 343.8,27.5" stroke="#eb0000"/>
<polygon points="343.8,27.5 352.9,30.3 356.9,26.7 347.8,24.0" stroke="#e70000"/>
<polygon points="347.8,24.0 356.9,26.7 358.9,25.0 349.8,22.3" stroke="#e40000"/>
<polygon points="163.8,285.6 176.5,296.3 180.1,289.9 167.5,279.4" stroke="#c1ff3e"/>
<polygon points="167.5,279.4 180.1,289.9 187.3,277.4 174.9,267.1" stroke="#d2ff2d"/>
<polygon points="174.9,267.1 187.3,277.4 194.4,265.2 182.1,255.1" stroke="#e2ff1d"/>
<polygon points="182.1,255.1 194.4,265.2 201.4,253.3 189.1,243.4" stroke="#f2ff0d"/>
<polygon points="189.1,243.4 201.4,253.3 208.2,241.7 196.1,232.0" stroke="#fffd00"/>
<polygon points="196.1,232.0 208.2,241.7 215.0,230.4 203.0,220.9" stroke="#ffee00"/>
<polygon points="203.0,220.9 215.0,230.4 221.6,219.4 209.7,210.2" stroke="#ffdf00"/>
<polygon points="209.7,210.2 221.6,219.4 228.1,208.8 216.4,199.8" stroke="#ffd100"/>
<polygon points="216.4,199.8 228.1,208.8 234.5,198.4 222.9,189.7" stroke="#ffc300"/>
<polygon points="222.9,189.7 234.5,198.4 240.8,188.4 229.3,180.0" stroke="#ffb500"/>
<polygon points="229.3,180.0 240.8,188.4 247.0,178.7 235.7,170.6" stroke="#ffa800"/>
<polygon points="235.7,170.6 247.0,178.7 253.1,169.3 241.9,161.5" stroke="#ff9c00"/>
<polygon points="241.9,161.5 253.1,169.3 259.1,160.3 248.0,152.7" stroke="#ff9000"/>
<polygon points="248.0,152.7 259.1,160.3 265.0,151.5 254.0,144.2" stroke="#ff8400"/>
<polygon points="254.0,144.2 265.0,151.5 270.8,143.1 259.9,136.1" stroke="#ff7900"/>
<polygon points="259.9,136.1 270.8,143.1 276.5,135.0 265.7,128.2" stroke="#ff6e00"/>
<polygon points="265.7,128.2 276.5,135.0 282.1,127.2 271.4,120.7" stroke="#ff6400"/>
<polygon points="271.4,120.7 282.1,127.2 287.6,119.7 276.9,113.4" stroke="#ff5a00"/>
<polygon points="276.9,113.4 287.6,119.7 293.0,112.4 282.4,106.5" stroke="#ff5000"/>
<polygon points="282.4,106.5 293.0,112.4 298.2,105.5 287.8,99.8" stroke="#ff4700"/>
<polygon points="287.8,99.8 298.2,105.5 303.4,98.8 293.1,93.3" stroke="#ff3f00"/>
<polygon points="293.1,93.3 303.4,98.8 308.5,92.4 298.3,87.2" stroke="#ff3700"/>
<polygon points="298.3,87.2 308.5,92.4 313.5,86.3 303.3,81.3" stroke="#ff2f00"/>
<polygon points="303.3,81.3 313.5,86.3 318.4,80.4 308.3,75.6" stroke="#ff2700"/>
<polygon points="308.3,75.6 318.4,80.4 323.2,74.8 313.2,70.2" stroke="#ff2000"/>
<polygon points="313.2,70.2 323.2,74.8 327.9,69.3 318.0,65.0" stroke="#ff1a00"/>
<polygon points="318.0,65.0 327.9,69.3 332.5,64.1 322.7,60.0" stroke="#ff1400"/>
<polygon points="322.7,60.0 332.5,64.1 337.0,59.2 327.3,55.2" stroke="#ff0e00"/>
<polygon points="327.3,55.2 337.0,59.2 341.4,54.4 331.8,50.6" stroke="#ff0800"/>
<polygon points="331.8,50.6 341.4,54.4 345.7,49.8 336.2,46.2" stroke="#ff0300"/>
<polygon points="336.2,46.2 345.7,49.8 350.0,45.4 340.5,42.0" stroke="#fd0000"/>
<polygon points="340.5,42.0 350.0,45.4 354.1,41.2 344.7,37.9" stroke="#f80000"/>
<polygon points="344.7,37.9 354.1,41.2 358.2,37.2 348.9,34.1" stroke="#f40000"/>
<polygon points="348.9,34.1 358.2,37.2 362.2,33.3 352.9,30.3" stroke="#f00000"/>
<polygon points="352.9,30.3 362.2,33.3 366.1,29.6 356.9,26.7" stroke="#ec0000"/>
<polygon points="356.9,26.7 366.1,29.6 368.0,27.8 358.9,25.0" stroke="#e80000"/>
<polygon points="176.5,296.3 189.2,307.0 192.8,300.6 180.1,289.9" stroke="#adff52"/>
<polygon points="180.1,289.9 192.8,300.6 199.9,287.9 187.3,277.4" stroke="#beff41"/>
<polygon points="187.3,277.4 199.9,287.9 206.8,275.5 194.4,265.2" stroke="#ceff31"/>
<polygon points="194.4,265.2 206.8,275.5 213.7,263.4 201.4,253.3" stroke="#deff21"/>
<polygon points="201.4,253.3 213.7,263.4 220.4,251.6 208.2,241.7" stroke="#eeff11"/>
<polygon points="208.2,241.7 220.4,251.6 227.0,240.1 215.0,230.4" stroke="#fdff02"/>
<polygon points="215.0,230.4 227.0,240.1 233.5,228.9 221.6,219.4" stroke="#fff100"/>
<polygon points="221.6,219.4 233.5,228.9 239.9,218.0 228.1,208.8" stroke="#ffe300"/>
<polygon points="228.1,208.8 239.9,218.0 246.2,207.4 234.5,198.4" stroke="#ffd400"/>
<polygon points="234.5,198.4 246.2,207.4 252.4,197.1 240.8,188.4" stroke="#ffc600"/>
<polygon points="240.8,188.4 252.4,197.1 258.5,187.1 247.0,178.7" stroke="#ffb800"/>
<polygon points="247.0,178.7 258.5,187.1 264.5,177.5 253.1,169.3" stroke="#ffab00"/>
<polygon points="253.1,169.3 264.5,177.5 270.4,168.1 259.1,160.3" stroke="#ff9f00"/>
<polygon points="259.1,160.3 270.4,168.1 276.2,159.1 265.0,151.5" stroke="#ff9200"/>
<polygon points="265.0,151.5 276.2,159.1 281.8,150.4 270.8,143.1" stroke="#ff8700"/>
<polygon points="270.8,143.1 281.8,150.4 287.4,142.0 276.5,135.0" stroke="#ff7b00"/>
<polygon points="276.5,135.0 287.4,142.0 292.9,134.0 282.1,127.2" stroke="#ff7000"/>
<polygon points="282.1,127.2 292.9,134.0 298.3,126.2 287.6,119.7" stroke="#ff6600"/>
<polygon points="287.6,119.7 298.3,126.2 303.6,118.7 293.0,112.4" stroke="#ff5c00"/>
<polygon points="293.0,112.4 303.6,118.7 308.8,111.5 298.2,105.5" stroke="#ff5200"/>
<polygon points="298.2,105.5 308.8,111.5 313.9,104.6 303.4,98.8" stroke="#ff4900"/>
<polygon points="303.4,98.8 313.9,104.6 318.9,97.9 308.5,92.4" stroke="#ff4100"/>
<polygon points="308.5,92.4 318.9,97.9 323.7,91.5 313.5,86.3" stroke="#ff3800"/>
<polygon points="313.5,86.3 323.7,91.5 328.6,85.4 318.4,80.4" stroke="#ff3100"/>
<polygon points="318.4,80.4 328.6,85.4 333.3,79.5 323.2,74.8" stroke="#ff2900"/>
<polygon points="323.2,74.8 333.3,79.5 337.9,73.9 327.9,69.3" stroke="#ff2200"/>
<polygon points="327.9,69.3 337.9,73.9 342.4,68.5 332.5,64.1" stroke="#ff1b00"/>
<polygon points="332.5,64.1 342.4,68.5 346.8,63.3 337.0,59.2" stroke="#ff1500"/>
<polygon points="337.0,59.2 346.8,63.3 351.2,58.3 341.4,54.4" stroke="#ff0f00"/>
<polygon points="341.4,54.4 351.2,58.3 355.4,53.6 345.7,49.8" stroke="#ff0900"/>
<polygon points="345.7,49.8 355.4,53.6 359.6,49.0 350.0,45.4" stroke="#ff0400"/>
<polygon points="350.0,45.4 359.6,49.0 363.6,44.6 354.1,41.2" stroke="#fe0000"/>
<polygon points="354.1,41.2 363.6,44.6 367.6,40.4 358.2,37.2" stroke="#f90000"/>
<polygon points="358.2,37.2 367.6,40.4 371.5,36.4 362.2,33.3" stroke="#f50000"/>
<polygon points="362.2,33.3 371.5,36.4 375.4,32.5 366.1,29.6" stroke="#f10000"/>
<polygon points="366.1,29.6 375.4,32.5 377.3,30.7 368.0,27.8" stroke="#ed0000"/>
<polygon points="189.2,307.0 202.0,317.9 205.5,311.3 192.8,300.6" stroke="#99ff66"/>
<polygon points="192.8,300.6 205.5,311.3 212.5,298.5 199.9,287.9" stroke="#a9ff56"/>
<polygon points="199.9,287.9 212.5,298.5 219.3,285.9 206.8,275.5" stroke="#baff45"/>
<polygon points="206.8,275.5 219.3,285.9 226.0,273.6 213.7,263.4" stroke="#caff35"/>
<polygon points="213.7,263.4 226.0,273.6 232.6,261.6 220.4,251.6" stroke="#daff25"/>
<polygon points="220.4,251.6 232.6,261.6 239.1,249.9 227.0,240.1" stroke="#eaff15"/>
<polygon points="227.0,240.1 239.1,249.9 245.5,238.5 233.5,228.9" stroke="#faff05"/>
<polygon points="233.5,228.9 245.5,238.5 251.8,227.3 239.9,218.0" stroke="#fff500"/>
<polygon points="239.9,218.0 251.8,227.3 258.0,216.5 246.2,207.4" stroke="#ffe600"/>
<polygon points="246.2,207.4 258.0,216.5 264.1,206.0 252.4,197.1" stroke="#ffd700"/>
<polygon points="252.4,197.1 264.1,206.0 270.0,195.8 258.5,187.1" stroke="#ffc900"/>
<polygon points="258.5,187.1 270.0,195.8 275.9,185.9 264.5,177.5" stroke="#ffbc00"/>
<polygon points="264.5,177.5 275.9,185.9 281.7,176.3 270.4,168.1" stroke="#ffae00"/>
<polygon points="270.4,168.1 281.7,176.3 287.4,167.0 276.2,159.1" stroke="#ffa100"/>
<polygon points="276.2,159.1 287.4,167.0 292.9,158.0 281.8,150.4" stroke="#ff9500"/>
<polygon points="281.8,150.4 292.9,158.0 298.4,149.3 287.4,142.0" stroke="#ff8900"/>
<polygon points="287.4,142.0 298.4,149.3 303.8,141.0 292.9,134.0" stroke="#ff7e00"/>
<polygon points="292.9,134.0 303.8,141.0 309.1,132.9 298.3,126.2" stroke="#ff7300"/>
<polygon points="298.3,126.2 309.1,132.9 314.3,125.2 303.6,118.7" stroke="#ff6800"/>
<polygon points="303.6,118.7 314.3,125.2 319.4,117.7 308.8,111.5" stroke="#ff5e00"/>
<polygon points="308.8,111.5 319.4,117.7 324.4,110.5 313.9,104.6" stroke="#ff5400"/>
<polygon points="313.9,104.6 324.4,110.5 329.3,103.6 318.9,97.9" stroke="#ff4b00"/>
<polygon points="318.9,97.9 329.3,103.6 334.1,97.0 323.7,91.5" stroke="#ff4300"/>
<polygon points="323.7,91.5 334.1,97.0 338.8,90.6 328.6,85.4" stroke="#ff3a00"/>
<polygon points="328.6,85.4 338.8,90.6 343.4,84.5 333.3,79.5" stroke="#ff3200"/>
<polygon points="333.3,79.5 343.4,84.5 347.9,78.7 337.9,73.9" stroke="#ff2b00"/>
<polygon points="337.9,73.9 347.9,78.7 352.4,73.1 342.4,68.5" stroke="#ff2400"/>
<polygon points="342.4,68.5 352.4,73.1 356.7,67.7 346.8,63.3" stroke="#ff1d00"/>
<polygon points="346.8,63.3 356.7,67.7 361.0,62.5 351.2,58.3" stroke="#ff1600"/>
<polygon points="351.2,58.3 361.0,62.5 365.2,57.5 355.4,53.6" stroke="#ff1000"/>
<polygon points="355.4,53.6 365.2,57.5 369.2,52.8 359.6,49.0" stroke="#ff0b00"/>
<polygon points="359.6,49.0 369.2,52.8 373.2,48.2 363.6,44.6" stroke="#ff0500"/>
<polygon points="363.6,44.6 373.2,48.2 377.2,43.9 367.6,40.4" stroke="#ff0000"/>
<polygon points="367.6,40.4 377.2,43.9 381.0,39.7 371.5,36.4" stroke="#fa0000"/>
<polygon points="371.5,36.4 381.0,39.7 384.8,35.7 375.4,32.5" stroke="#f60000"/>
<polygon points="375.4,32.5 384.8,35.7 386.6,33.7 377.3,30.7" stroke="#f20000"/>
<polygon points="202.0,317.9 214.8,328.7 218.2,322.1 205.5,311.3" stroke="#84ff7b"/>
<polygon points="205.5,311.3 218.2,322.1 225.1,309.2 212.5,298.5" stroke="#95ff6a"/>
<polygon points="212.5,298.5 225.1,309.2 231.8,296.5 219.3,285.9" stroke="#a5ff5a"/>
<polygon points="219.3,285.9 231.8,296.5 238.4,284.0 226.0,273.6" stroke="#b6ff49"/>
<polygon points="226.0,273.6 238.4,284.0 244.9,271.8 232.6,261.6" stroke="#c7ff38"/>
<polygon points="232.6,261.6 244.9,271.8 251.3,259.9 239.1,249.9" stroke="#d7ff28"/>
<polygon points="239.1,249.9 251.3,259.9 257.6,248.3 245.5,238.5" stroke="#e7ff18"/>
<polygon points="245.5,238.5 257.6,248.3 263.7,236.9 251.8,227.3" stroke="#f6ff09"/>
<polygon points="251.8,227.3 263.7,236.9 269.8,225.9 258.0,216.5" stroke="#fff800"/>
<polygon points="258.0,216.5 269.8,225.9 275.8,215.1 264.1,206.0" stroke="#ffe900"/>
<polygon points="264.1,206.0 275.8,215.1 281.6,204.6 270.0,195.8" stroke="#ffdb00"/>
<polygon points="270.0,195.8 281.6,204.6 287.4,194.5 275.9,185.9" stroke="#ffcc00"/>
<polygon points="275.9,185.9 287.4,194.5 293.1,184.6 281.7,176.3" stroke="#ffbf00"/>
<polygon points="281.7,176.3 293.1,184.6 298.6,175.1 287.4,167.0" stroke="#ffb100"/>
<polygon points="287.4,167.0 298.6,175.1 304.1,165.8 292.9,158.0" stroke="#ffa400"/>
<polygon points="292.9,158.0 304.1,165.8 309.5,156.9 298.4,149.3" stroke="#ff9800"/>
<polygon points="298.4,149.3 309.5,156.9 314.8,148.3 303.8,141.0" stroke="#ff8c00"/>
<polygon points="303.8,141.0 314.8,148.3 320.0,140.0 309.1,132.9" stroke="#ff8000"/>
<polygon points="309.1,132.9 320.0,140.0 325.1,131.9 314.3,125.2" stroke="#ff7500"/>
<polygon points="314.3,125.2 325.1,131.9 330.1,124.2 319.4,117.7" stroke="#ff6b00"/>
<polygon points="319.4,117.7 330.1,124.2 335.0,116.8 324.4,110.5" stroke="#ff6000"/>
<polygon points="324.4,110.5 335.0,116.8 339.8,109.6 329.3,103.6" stroke="#ff5700"/>
<polygon points="329.3,103.6 339.8,109.6 344.5,102.7 334.1,97.0" stroke="#ff4d00"/>
<polygon points="334.1,97.0 344.5,102.7 349.1,96.1 338.8,90.6" stroke="#ff4400"/>
<polygon points="338.8,90.6 349.1,96.1 353.7,89.8 343.4,84.5" stroke="#ff3c00"/>
<polygon points="343.4,84.5 353.7,89.8 358.1,83.7 347.9,78.7" stroke="#ff3400"/>
<polygon points="347.9,78.7 358.1,83.7 362.5,77.8 352.4,73.1" stroke="#ff2c00"/>
<polygon points="352.4,73.1 362.5,77.8 366.7,72.2 356.7,67.7" stroke="#ff2500"/>
<polygon points="356.7,67.7 366.7,72.2 370.9,66.9 361.0,62.5" stroke="#ff1e00"/>
<polygon points="361.0,62.5 370.9,66.9 375.0,61.7 365.2,57.5" stroke="#ff1800"/>
<polygon points="365.2,57.5 375.0,61.7 379.0,56.8 369.2,52.8" stroke="#ff1200"/>
<polygon points="369.2,52.8 379.0,56.8 382.9,52.0 373.2,48.2" stroke="#ff0c00"/>
<polygon points="373.2,48.2 382.9,52.0 386.8,47.5 377.2,43.9" stroke="#ff0600"/>
<polygon points="377.2,43.9 386.8,47.5 390.5,43.1 381.0,39.7" stroke="#ff0100"/>
<polygon points="381.0,39.7 390.5,43.1 394.2,38.9 384.8,35.7" stroke="#fb0000"/>
<polygon points="384.8,35.7 394.2,38.9 396.0,36.9 386.6,33.7" stroke="#f70000"/>
<polygon points="214.8,328.7 227.6,339.6 231.0,333.0 218.2,322.1" stroke="#6fff90"/>
<polygon points="218.2,322.1 231.0,333.0 237.7,319.9 225.1,309.2" stroke="#80ff7f"/>
<polygon points="225.1,309.2 237.7,319.9 244.3,307.0 231.8,296.5" stroke="#91ff6e"/>
<polygon points="231.8,296.5 244.3,307.0 250.8,294.4 238.4,284.0" stroke="#a2ff5d"/>
<polygon points="238.4,284.0 250.8,294.4 257.2,282.1 244.9,271.8" stroke="#b2ff4d"/>
<polygon points="244.9,271.8 257.2,282.1 263.5,270.0 251.3,259.9" stroke="#c3ff3c"/>
<polygon points="251.3,259.9 263.5,270.0 269.6,258.2 257.6,248.3" stroke="#d3ff2c"/>
<polygon points="257.6,248.3 269.6,258.2 275.7,246.6 263.7,236.9" stroke="#e3ff1c"/>
<polygon points="263.7,236.9 275.7,246.6 281.7,235.4 269.8,225.9" stroke="#f3ff0c"/>
<polygon points="269.8,225.9 281.7,235.4 287.5,224.4 275.8,215.1" stroke="#fffc00"/>
<polygon points="275.8,215.1 287.5,224.4 293.3,213.7 281.6,204.6" stroke="#ffed00"/>
<polygon points="281.6,204.6 293.3,213.7 299.0,203.3 287.4,194.5" stroke="#ffde00"/>
<polygon points="287.4,194.5 299.0,203.3 304.5,193.2 293.1,184.6" stroke="#ffd000"/>
<polygon points="293.1,184.6 304.5,193.2 310.0,183.4 298.6,175.1" stroke="#ffc200"/>
<polygon points="298.6,175.1 310.0,183.4 315.4,173.9 304.1,165.8" stroke="#ffb400"/>
<polygon points="304.1,165.8 315.4,173.9 320.6,164.7 309.5,156.9" stroke="#ffa700"/>
<polygon points="309.5,156.9 320.6,164.7 325.8,155.8 314.8,148.3" stroke="#ff9b00"/>
<polygon points="314.8,148.3 325.8,155.8 330.9,147.2 320.0,140.0" stroke="#ff8f00"/>
<polygon points="320.0,140.0 330.9,147.2 335.9,139.0 325.1,131.9" stroke="#ff8300"/>
<polygon points="325.1,131.9 335.9,139.0 340.8,131.0 330.1,124.2" stroke="#ff7800"/>
<polygon points="330.1,124.2 340.8,131.0 345.7,123.3 335.0,116.8" stroke="#ff6d00"/>
<polygon points="335.0,116.8 345.7,123.3 350.4,115.8 339.8,109.6" stroke="#ff6300"/>
<polygon points="339.8,109.6 350.4,115.8 355.0,108.7 344.5,102.7" stroke="#ff5900"/>
<polygon points="344.5,102.7 355.0,108.7 359.6,101.9 349.1,96.1" stroke="#ff4f00"/>
<polygon points="349.1,96.1 359.6,101.9 364.0,95.3 353.7,89.8" stroke="#ff4600"/>
<polygon points="353.7,89.8 364.0,95.3 368.4,88.9 358.1,83.7" stroke="#ff3e00"/>
<polygon points="358.1,83.7 368.4,88.9 372.6,82.9 362.5,77.8" stroke="#ff3600"/>
<polygon points="362.5,77.8 372.6,82.9 376.8,77.0 366.7,72.2" stroke="#ff2e00"/>
<polygon points="366.7,72.2 376.8,77.0 380.9,71.4 370.9,66.9" stroke="#ff2700"/>
<polygon points="370.9,66.9 380.9,71.4 384.9,66.1 375.0,61.7" stroke="#ff2000"/>
<polygon points="375.0,61.7 384.9,66.1 388.9,60.9 379.0,56.8" stroke="#ff1900"/>
<polygon points="379.0,56.8 388.9,60.9 392.7,56.0 382.9,52.0" stroke="#ff1300"/>
<polygon points="382.9,52.0 392.7,56.0 396.5,51.3 386.8,47.5" stroke="#ff0d00"/>
<polygon points="386.8,47.5 396.5,51.3 400.2,46.7 390.5,43.1" stroke="#ff0800"/>
<polygon points="390.5,43.1 400.2,46.7 403.8,42.4 394.2,38.9" stroke="#ff0200"/>
<polygon points="394.2,38.9 403.8,42.4 405.6,40.3 396.0,36.9" stroke="#fd0000"/>
<polygon points="227.6,339.6 240.4,350.5 243.8,343.8 231.0,333.0" stroke="#5affa5"/>
<polygon points="231.0,333.0 243.8,343.8 250.4,330.6 237.7,319.9" stroke="#6bff94"/>
<polygon points="237.7,319.9 250.4,330.6 256.9,317.7 244.3,307.0" stroke="#7cff83"/>
<polygon points="244.3,307.0 256.9,317.7 263.3,304.9 250.8,294.4" stroke="#8dff72"/>
<polygon points="250.8,294.4 263.3,304.9 269.6,292.4 257.2,282.1" stroke="#9eff61"/>
<polygon points="257.2,282.1 269.6,292.4 275.7,280.2 263.5,270.0" stroke="#afff50"/>
<polygon points="263.5,270.0 275.7,280.2 281.8,268.2 269.6,258.2" stroke="#bfff40"/>
<polygon points="269.6,258.2 281.8,268.2 287.7,256.5 275.7,246.6" stroke="#cfff30"/>
<polygon points="275.7,246.6 287.7,256.5 293.6,245.0 281.7,235.4" stroke="#e0ff1f"/>
<polygon points="281.7,235.4 293.6,245.0 299.3,233.9 287.5,224.4" stroke="#efff10"/>
<polygon points="287.5,224.4 299.3,233.9 305.0,223.0 293.3,213.7" stroke="#ffff00"/>
<polygon points="293.3,213.7 305.0,223.0 310.5,212.3 299.0,203.3" stroke="#fff000"/>
<polygon points="299.0,203.3 310.5,212.3 316.0,202.0 304.5,193.2" stroke="#ffe100"/>
<polygon points="304.5,193.2 316.0,202.0 321.4,192.0 310.0,183.4" stroke="#ffd300"/>
<polygon points="310.0,183.4 321.4,192.0 326.7,182.2 315.4,173.9" stroke="#ffc500"/>
<polygon points="315.4,173.9 326.7,182.2 331.9,172.8 320.6,164.7" stroke="#ffb700"/>
<polygon points="320.6,164.7 331.9,172.8 336.9,163.6 325.8,155.8" stroke="#ffaa00"/>
<polygon points="325.8,155.8 336.9,163.6 341.9,154.8 330.9,147.2" stroke="#ff9e00"/>
<polygon points="330.9,147.2 341.9,154.8 346.9,146.2 335.9,139.0" stroke="#ff9100"/>
<polygon points="335.9,139.0 346.9,146.2 351.7,138.0 340.8,131.0" stroke="#ff8600"/>
<polygon points="340.8,131.0 351.7,138.0 356.4,130.0 345.7,123.3" stroke="#ff7a00"/>
<polygon points="345.7,123.3 356.4,130.0 361.0,122.3 350.4,115.8" stroke="#ff6f00"/>
<polygon points="350.4,115.8 361.0,122.3 365.6,114.9 355.0,108.7" stroke="#ff6500"/>
<polygon points="355.0,108.7 365.6,114.9 370.0,107.8 359.6,101.9" stroke="#ff5b00"/>
<polygon points="359.6,101.9 370.0,107.8 374.4,101.0 364.0,95.3" stroke="#ff5200"/>
<polygon points="364.0,95.3 374.4,101.0 378.7,94.4 368.4,88.9" stroke="#ff4800"/>
<polygon points="368.4,88.9 378.7,94.4 382.9,88.1 372.6,82.9" stroke="#ff4000"/>
<polygon points="372.6,82.9 382.9,88.1 387.0,82.0 376.8,77.0" stroke="#ff3800"/>
<polygon points="376.8,77.0 387.0,82.0 391.0,76.2 380.9,71.4" stroke="#ff3000"/>
<polygon points="380.9,71.4 391.0,76.2 394.9,70.6 384.9,66.1" stroke="#ff2800"/>
<polygon points="384.9,66.1 394.9,70.6 398.8,65.3 388.9,60.9" stroke="#ff2100"/>
<polygon points="388.9,60.9 398.8,65.3 402.6,60.2 392.7,56.0" stroke="#ff1b00"/>
<polygon points="392.7,56.0 402.6,60.2 406.3,55.2 396.5,51.3" stroke="#ff1400"/>
<polygon points="396.5,51.3 406.3,55.2 409.9,50.5 400.2,46.7" stroke="#ff0f00"/>
<polygon points="400.2,46.7 409.9,50.5 413.4,46.0 403.8,42.4" stroke="#ff0900"/>
<polygon points="403.8,42.4 413.4,46.0 415.2,43.8 405.6,40.3" stroke="#ff0400"/>
<polygon points="240.4,350.5 253.3,361.4 256.6,354.6 243.8,343.8" stroke="#45ffba"/>
<polygon points="243.8,343.8 256.6,354.6 263.1,341.4 250.4,330.6" stroke="#56ffa9"/>
<polygon points="250.4,330.6 263.1,341.4 269.5,328.3 256.9,317.7" stroke="#67ff98"/>
<polygon points="256.9,317.7 269.5,328.3 275.8,315.5 263.3,304.9" stroke="#78ff87"/>
<polygon points="263.3,304.9 275.8,315.5 281.9,302.9 269.6,292.4" stroke="#89ff76"/>
<polygon points="269.6,292.4 281.9,302.9 288.0,290.5 275.7,280.2" stroke="#9aff65"/>
<polygon points="275.7,280.2 288.0,290.5 293.9,278.4 281.8,268.2" stroke="#abff54"/>
<polygon points="281.8,268.2 293.9,278.4 299.8,266.5 287.7,256.5" stroke="#bbff44"/>
<polygon points="287.7,256.5 299.8,266.5 305.5,254.8 293.6,245.0" stroke="#ccff33"/>
<polygon points="293.6,245.0 305.5,254.8 311.2,243.5 299.3,233.9" stroke="#dcff23"/>
<polygon points="299.3,233.9 311.2,243.5 316.7,232.4 305.0,223.0" stroke="#ecff13"/>
<polygon points="305.0,223.0 316.7,232.4 322.2,221.5 310.5,212.3" stroke="#fbff04"/>
<polygon points="310.5,212.3 322.2,221.5 327.6,211.0 316.0,202.0" stroke="#fff300"/>
<polygon points="316.0,202.0 327.6,211.0 332.8,200.7 321.4,192.0" stroke="#ffe500"/>
<polygon points="321.4,192.0 332.8,200.7 338.0,190.7 326.7,182.2" stroke="#ffd600"/>
<polygon points="326.7,182.2 338.0,190.7 343.1,181.1 331.9,172.8" stroke="#ffc800"/>
<polygon points="331.9,172.8 343.1,181.1 348.1,171.7 336.9,163.6" stroke="#ffba00"/>
<polygon points="336.9,163.6 348.1,171.7 353.0,162.6 341.9,154.8" stroke="#ffad00"/>
<polygon points="341.9,154.8 353.0,162.6 357.8,153.7 346.9,146.2" stroke="#ffa000"/>
<polygon points="346.9,146.2 357.8,153.7 362.6,145.2 351.7,138.0" stroke="#ff9400"/>
<polygon points="351.7,138.0 362.6,145.2 367.2,137.0 356.4,130.0" stroke="#ff8800"/>
<polygon points="356.4,130.0 367.2,137.0 371.8,129.1 361.0,122.3" stroke="#ff7d00"/>
<polygon points="361.0,122.3 371.8,129.1 376.2,121.4 365.6,114.9" stroke="#ff7200"/>
<polygon points="365.6,114.9 376.2,121.4 380.6,114.1 370.0,107.8" stroke="#ff6700"/>
<polygon points="370.0,107.8 380.6,114.1 384.9,107.0 374.4,101.0" stroke="#ff5d00"/>
<polygon points="374.4,101.0 384.9,107.0 389.1,100.1 378.7,94.4" stroke="#ff5400"/>
<polygon points="378.7,94.4 389.1,100.1 393.2,93.6 382.9,88.1" stroke="#ff4b00"/>
<polygon points="382.9,88.1 393.2,93.6 397.2,87.3 387.0,82.0" stroke="#ff4200"/>
<polygon points="387.0,82.0 397.2,87.3 401.2,81.2 391.0,76.2" stroke="#ff3900"/>
<polygon points="391.0,76.2 401.2,81.2 405.0,75.4 394.9,70.6" stroke="#ff3200"/>
<polygon points="394.9,70.6 405.0,75.4 408.8,69.9 398.8,65.3" stroke="#ff2a00"/>
<polygon points="398.8,65.3 408.8,69.9 412.5,64.5 402.6,60.2" stroke="#ff2300"/>
<polygon points="402.6,60.2 412.5,64.5 416.1,59.4 406.3,55.2" stroke="#ff1c00"/>
<polygon points="406.3,55.2 416.1,59.4 419.7,54.5 409.9,50.5" stroke="#ff1600"/>
<polygon points="409.9,50.5 419.7,54.5 423.1,49.8 413.4,46.0" stroke="#ff1000"/>
<polygon points="413.4,46.0 423.1,49.8 424.8,47.5 415.2,43.8" stroke="#ff0a00"/>
<polygon points="253.3,361.4 266.2,372.2 269.4,365.4 256.6,354.6" stroke="#30ffcf"/>
<polygon points="256.6,354.6 269.4,365.4 275.8,352.1 263.1,341.4" stroke="#41ffbe"/>
<polygon points="263.1,341.4 275.8,352.1 282.1,339.0 269.5,328.3" stroke="#52ffad"/>
<polygon points="269.5,328.3 282.1,339.0 288.3,326.0 275.8,315.5" stroke="#63ff9c"/>
<polygon points="275.8,315.5 288.3,326.0 294.3,313.3 281.9,302.9" stroke="#74ff8b"/>
<polygon points="281.9,302.9 294.3,313.3 300.3,300.8 288.0,290.5" stroke="#85ff7a"/>
<polygon points="288.0,290.5 300.3,300.8 306.1,288.6 293.9,278.4" stroke="#96ff69"/>
<polygon points="293.9,278.4 306.1,288.6 311.9,276.5 299.8,266.5" stroke="#a7ff58"/>
<polygon points="299.8,266.5 311.9,276.5 317.5,264.8 305.5,254.8" stroke="#b8ff47"/>
<polygon points="305.5,254.8 317.5,264.8 323.1,253.2 311.2,243.5" stroke="#c8ff37"/>
<polygon points="311.2,243.5 323.1,253.2 328.5,241.9 316.7,232.4" stroke="#d8ff27"/>
<polygon points="316.7,232.4 328.5,241.9 333.9,230.9 322.2,221.5" stroke="#e8ff17"/>
<polygon points="322.2,221.5 333.9,230.9 339.1,220.2 327.6,211.0" stroke="#f8ff07"/>
<polygon points="327.6,211.0 339.1,220.2 344.3,209.7 332.8,200.7" stroke="#fff700"/>
<polygon points="332.8,200.7 344.3,209.7 349.4,199.5 338.0,190.7" stroke="#ffe800"/>
<polygon points="338.0,190.7 349.4,199.5 354.4,189.5 343.1,181.1" stroke="#ffd900"/>
<polygon points="343.1,181.1 354.4,189.5 359.3,179.9 348.1,171.7" stroke="#ffcb00"/>
<polygon points="348.1,171.7 359.3,179.9 364.1,170.6 353.0,162.6" stroke="#ffbd00"/>
<polygon points="353.0,162.6 364.1,170.6 368.9,161.5 357.8,153.7" stroke="#ffb000"/>
<polygon points="357.8,153.7 368.9,161.5 373.5,152.7 362.6,145.2" stroke="#ffa300"/>
<polygon points="362.6,145.2 373.5,152.7 378.1,144.2 367.2,137.0" stroke="#ff9700"/>
<polygon points="367.2,137.0 378.1,144.2 382.5,136.1 371.8,129.1" stroke="#ff8b00"/>
<polygon points="371.8,129.1 382.5,136.1 386.9,128.2 376.2,121.4" stroke="#ff7f00"/>
<polygon points="376.2,121.4 386.9,128.2 391.2,120.5 380.6,114.1" stroke="#ff7400"/>
<polygon points="380.6,114.1 391.2,120.5 395.4,113.2 384.9,107.0" stroke="#ff6a00"/>
<polygon points="384.9,107.0 395.4,113.2 399.5,106.1 389.1,100.1" stroke="#ff6000"/>
<polygon points="389.1,100.1 399.5,106.1 403.6,99.3 393.2,93.6" stroke="#ff5600"/>
<polygon points="393.2,93.6 403.6,99.3 407.5,92.8 397.2,87.3" stroke="#ff4d00"/>
<polygon points="397.2,87.3 407.5,92.8 411.4,86.5 401.2,81.2" stroke="#ff4400"/>
<polygon points="401.2,81.2 411.4,86.5 415.2,80.5 405.0,75.4" stroke="#ff3b00"/>
<polygon points="405.0,75.4 415.2,80.5 418.9,74.7 408.8,69.9" stroke="#ff3300"/>
<polygon points="408.8,69.9 418.9,74.7 422.5,69.1 412.5,64.5" stroke="#ff2c00"/>
<polygon points="412.5,64.5 422.5,69.1 426.1,63.8 416.1,59.4" stroke="#ff2500"/>
<polygon points="416.1,59.4 426.1,63.8 429.5,58.7 419.7,54.5" stroke="#ff1e00"/>
<polygon points="419.7,54.5 429.5,58.7 432.9,53.8 423.1,49.8" stroke="#ff1700"/>
<polygon points="423.1,49.8 432.9,53.8 434.6,51.4 424.8,47.5" stroke="#ff1100"/>
<polygon points="266.2,372.2 279.1,383.0 282.3,376.2 269.4,365.4" stroke="#1cffe3"/>
<polygon points="269.4,365.4 282.3,376.2 288.6,362.8 275.8,352.1" stroke="#2cffd3"/>
<polygon points="275.8,352.1 288.6,362.8 294.7,349.6 282.1,339.0" stroke="#3dffc2"/>
<polygon points="282.1,339.0 294.7,349.6 300.8,336.6 288.3,326.0" stroke="#4effb1"/>
<polygon points="288.3,326.0 300.8,336.6 306.7,323.8 294.3,313.3" stroke="#5fffa0"/>
<polygon points="294.3,313.3 306.7,323.8 312.6,311.2 300.3,300.8" stroke="#70ff8f"/>
<polygon points="300.3,300.8 312.6,311.2 318.3,298.8 306.1,288.6" stroke="#81ff7e"/>
<polygon points="306.1,288.6 318.3,298.8 324.0,286.7 311.9,276.5" stroke="#92ff6d"/>
<polygon points="311.9,276.5 324.0,286.7 329.5,274.8 317.5,264.8" stroke="#a3ff5c"/>
<polygon points="317.5,264.8 329.5,274.8 335.0,263.1 323.1,253.2" stroke="#b4ff4b"/>
<polygon points="323.1,253.2 335.0,263.1 340.3,251.6 328.5,241.9" stroke="#c4ff3b"/>
<polygon points="328.5,241.9 340.3,251.6 345.6,240.4 333.9,230.9" stroke="#d5ff2a"/>
<polygon points="333.9,230.9 345.6,240.4 350.8,229.5 339.1,220.2" stroke="#e5ff1a"/>
<polygon points="339.1,220.2 350.8,229.5 355.8,218.8 344.3,209.7" stroke="#f4ff0b"/>
<polygon points="344.3,209.7 355.8,218.8 360.8,208.4 349.4,199.5" stroke="#fffa00"/>
<polygon points="349.4,199.5 360.8,208.4 365.7,198.2 354.4,189.5" stroke="#ffeb00"/>
<polygon points="354.4,189.5 365.7,198.2 370.6,188.4 359.3,179.9" stroke="#ffdd00"/>
<polygon points="359.3,179.9 370.6,188.4 375.3,178.8 364.1,170.6" stroke="#ffce00"/>
<polygon points="364.1,170.6 375.3,178.8 379.9,169.5 368.9,161.5" stroke="#ffc100"/>
<polygon points="368.9,161.5 379.9,169.5 384.5,160.5 373.5,152.7" stroke="#ffb300"/>
<polygon points="373.5,152.7 384.5,160.5 389.0,151.7 378.1,144.2" stroke="#ffa600"/>
<polygon points="378.1,144.2 389.0,151.7 393.4,143.3 382.5,136.1" stroke="#ff9a00"/>
<polygon points="382.5,136.1 393.4,143.3 397.7,135.1 386.9,128.2" stroke="#ff8e00"/>
<polygon points="386.9,128.2 397.7,135.1 401.9,127.3 391.2,120.5" stroke="#ff8200"/>
<polygon points="391.2,120.5 401.9,127.3 406.0,119.7 395.4,113.2" stroke="#ff7700"/>
<polygon points="395.4,113.2 406.0,119.7 410.1,112.3 399.5,106.1" stroke="#ff6c00"/>
<polygon points="399.5,106.1 410.1,112.3 414.0,105.3 403.6,99.3" stroke="#ff6200"/>
<polygon points="403.6,99.3 414.0,105.3 417.9,98.5 407.5,92.8" stroke="#ff5800"/>
<polygon points="407.5,92.8 417.9,98.5 421.7,92.0 411.4,86.5" stroke="#ff4f00"/>
<polygon points="411.4,86.5 421.7,92.0 425.4,85.7 415.2,80.5" stroke="#ff4600"/>
<polygon points="415.2,80.5 425.4,85.7 429.0,79.7 418.9,74.7" stroke="#ff3d00"/>
<polygon points="418.9,74.7 429.0,79.7 432.6,73.9 422.5,69.1" stroke="#ff3500"/>
<polygon points="422.5,69.1 432.6,73.9 436.1,68.4 426.1,63.8" stroke="#ff2d00"/>
<polygon points="426.1,63.8 436.1,68.4 439.5,63.0 429.5,58.7" stroke="#ff2600"/>
<polygon points="429.5,58.7 439.5,63.0 442.8,57.9 432.9,53.8" stroke="#ff1f00"/>
<polygon points="432.9,53.8 442.8,57.9 444.4,55.5 434.6,51.4" stroke="#ff1900"/>
<polygon points="279.1,383.0 292.0,393.7 295.1,386.9 282.3,376.2" stroke="#07fff8"/>
<polygon points="282.3,376.2 295.1,386.9 301.3,373.4 288.6,362.8" stroke="#18ffe7"/>
<polygon points="288.6,362.8 301.3,373.4 307.4,360.2 294.7,349.6" stroke="#29ffd6"/>
<polygon points="294.7,349.6 307.4,360.2 313.3,347.1 300.8,336.6" stroke="#39ffc6"/>
<polygon points="300.8,336.6 313.3,347.1 319.2,334.2 306.7,323.8" stroke="#4affb5"/>
<polygon points="306.7,323.8 319.2,334.2 324.9,321.6 312.6,311.2" stroke="#5bffa4"/>
<polygon points="312.6,311.2 324.9,321.6 330.6,309.1 318.3,298.8" stroke="#6cff93"/>
<polygon points="318.3,298.8 330.6,309.1 336.1,296.9 324.0,286.7" stroke="#7dff82"/>
<polygon points="324.0,286.7 336.1,296.9 341.6,284.8 329.5,274.8" stroke="#8eff71"/>
<polygon points="329.5,274.8 341.6,284.8 346.9,273.0 335.0,263.1" stroke="#9fff60"/>
<polygon points="335.0,263.1 346.9,273.0 352.2,261.4 340.3,251.6" stroke="#b0ff4f"/>
<polygon points="340.3,251.6 352.2,261.4 357.3,250.0 345.6,240.4" stroke="#c0ff3f"/>
<polygon points="345.6,240.4 357.3,250.0 362.4,238.9 350.8,229.5" stroke="#d1ff2e"/>
<polygon points="350.8,229.5 362.4,238.9 367.4,228.1 355.8,218.8" stroke="#e1ff1e"/>
<polygon points="355.8,218.8 367.4,228.1 372.3,217.5 360.8,208.4" stroke="#f1ff0e"/>
<polygon points="360.8,208.4 372.3,217.5 377.1,207.1 365.7,198.2" stroke="#fffe00"/>
<polygon points="365.7,198.2 377.1,207.1 381.9,197.0 370.6,188.4" stroke="#ffef00"/>
<polygon points="370.6,188.4 381.9,197.0 386.5,187.2 375.3,178.8" stroke="#ffe000"/>
<polygon points="375.3,178.8 386.5,187.2 391.1,177.7 379.9,169.5" stroke="#ffd200"/>
<polygon points="379.9,169.5 391.1,177.7 395.5,168.4 384.5,160.5" stroke="#ffc400"/>
<polygon points="384.5,160.5 395.5,168.4 399.9,159.5 389.0,151.7" stroke="#ffb600"/>
<polygon points="389.0,151.7 399.9,159.5 404.2,150.8 393.4,143.3" stroke="#ffa900"/>
<polygon points="393.4,143.3 404.2,150.8 408.5,142.3 397.7,135.1" stroke="#ff9c00"/>
<polygon points="397.7,135.1 408.5,142.3 412.6,134.2 401.9,127.3" stroke="#ff9000"/>
<polygon points="401.9,127.3 412.6,134.2 416.7,126.4 406.0,119.7" stroke="#ff8500"/>
<polygon points="406.0,119.7 416.7,126.4 420.6,118.8 410.1,112.3" stroke="#ff7900"/>
<polygon points="410.1,112.3 420.6,118.8 424.5,111.5 414.0,105.3" stroke="#ff6e00"/>
<polygon points="414.0,105.3 424.5,111.5 428.3,104.5 417.9,98.5" stroke="#ff6400"/>
<polygon points="417.9,98.5 428.3,104.5 432.1,97.7 421.7,92.0" stroke="#ff5a00"/>
<polygon points="421.7,92.0 432.1,97.7 435.7,91.2 425.4,85.7" stroke="#ff5100"/>
<polygon points="425.4,85.7 435.7,91.2 439.3,84.9 429.0,79.7" stroke="#ff4800"/>
<polygon points="429.0,79.7 439.3,84.9 442.7,78.9 432.6,73.9" stroke="#ff3f00"/>
<polygon points="432.6,73.9 442.7,78.9 446.1,73.2 436.1,68.4" stroke="#ff3700"/>
<polygon points="436.1,68.4 446.1,73.2 449.5,67.6 439.5,63.0" stroke="#ff2f00"/>
<polygon points="439.5,63.0 449.5,67.6 452.7,62.3 442.8,57.9" stroke="#ff2800"/>
<polygon points="442.8,57.9 452.7,62.3 454.3,59.7 444.4,55.5" stroke="#ff2100"/>
<polygon points="292.0,393.7 304.9,404.3 308.0,397.5 295.1,386.9" stroke="#00f2ff"/>
<polygon points="295.1,386.9 308.0,397.5 314.1,384.0 301.3,373.4" stroke="#04fffb"/>
<polygon points="301.3,373.4 314.1,384.0 320.1,370.7 307.4,360.2" stroke="#14ffeb"/>
<polygon points="307.4,360.2 320.1,370.7 325.9,357.6 313.3,347.1" stroke="#25ffda"/>
<polygon points="313.3,347.1 325.9,357.6 331.7,344.7 319.2,334.2" stroke="#36ffc9"/>
<polygon points="319.2,334.2 331.7,344.7 337.3,331.9 324.9,321.6" stroke="#46ffb9"/>
<polygon points="324.9,321.6 337.3,331.9 342.8,319.4 330.6,309.1" stroke="#57ffa8"/>
<polygon points="330.6,309.1 342.8,319.4 348.3,307.1 336.1,296.9" stroke="#69ff96"/>
<polygon points="336.1,296.9 348.3,307.1 353.6,294.9 341.6,284.8" stroke="#7aff85"/>
<polygon points="341.6,284.8 353.6,294.9 358.9,283.0 346.9,273.0" stroke="#8bff74"/>
<polygon points="346.9,273.0 358.9,283.0 364.0,271.3 352.2,261.4" stroke="#9bff64"/>
<polygon points="352.2,261.4 364.0,271.3 369.1,259.8 357.3,250.0" stroke="#acff53"/>
<polygon points="357.3,250.0 369.1,259.8 374.1,248.5 362.4,238.9" stroke="#bdff42"/>
<polygon points="362.4,238.9 374.1,248.5 379.0,237.5 367.4,228.1" stroke="#cdff32"/>
<polygon points="367.4,228.1 379.0,237.5 383.8,226.7 372.3,217.5" stroke="#ddff22"/>
<polygon points="372.3,217.5 383.8,226.7 388.5,216.1 377.1,207.1" stroke="#edff12"/>
<polygon points="377.1,207.1 388.5,216.1 393.2,205.9 381.9,197.0" stroke="#fdff02"/>
<polygon points="381.9,197.0 393.2,205.9 397.7,195.8 386.5,187.2" stroke="#fff200"/>
<polygon points="386.5,187.2 397.7,195.8 402.2,186.1 391.1,177.7" stroke="#ffe300"/>
<polygon points="391.1,177.7 402.2,186.1 406.6,176.6 395.5,168.4" stroke="#ffd500"/>
<polygon points="395.5,168.4 406.6,176.6 410.9,167.4 399.9,159.5" stroke="#ffc700"/>
<polygon points="399.9,159.5 410.9,167.4 415.2,158.5 404.2,150.8" stroke="#ffb900"/>
<polygon points="404.2,150.8 415.2,158.5 419.3,149.8 408.5,142.3" stroke="#ffac00"/>
<polygon points="408.5,142.3 419.3,149.8 423.4,141.4 412.6,134.2" stroke="#ff9f00"/>
<polygon points="412.6,134.2 423.4,141.4 427.3,133.3 416.7,126.4" stroke="#ff9300"/>
<polygon points="416.7,126.4 427.3,133.3 431.2,125.5 420.6,118.8" stroke="#ff8700"/>
<polygon points="420.6,118.8 431.2,125.5 435.1,118.0 424.5,111.5" stroke="#ff7c00"/>
<polygon points="424.5,111.5 435.1,118.0 438.8,110.7 428.3,104.5" stroke="#ff7100"/>
<polygon points="428.3,104.5 438.8,110.7 442.5,103.7 432.1,97.7" stroke="#ff6600"/>
<polygon points="432.1,97.7 442.5,103.7 446.0,96.9 435.7,91.2" stroke="#ff5c00"/>
<polygon points="435.7,91.2 446.0,96.9 449.5,90.4 439.3,84.9" stroke="#ff5300"/>
<polygon points="439.3,84.9 449.5,90.4 452.9,84.2 442.7,78.9" stroke="#ff4a00"/>
<polygon points="442.7,78.9 452.9,84.2 456.3,78.2 446.1,73.2" stroke="#ff4100"/>
<polygon points="446.1,73.2 456.3,78.2 459.5,72.4 449.5,67.6" stroke="#ff3900"/>
<polygon points="449.5,67.6 459.5,72.4 462.7,66.9 452.7,62.3" stroke="#ff3100"/>
<polygon points="452.7,62.3 462.7,66.9 464.3,64.2 454.3,59.7" stroke="#ff2900"/>
<polygon points="304.9,404.3 317.9,414.8 321.0,408.0 308.0,397.5" stroke="#00dfff"/>
<polygon points="308.0,397.5 321.0,408.0 326.9,394.5 314.1,384.0" stroke="#00efff"/>
<polygon points="314.1,384.0 326.9,394.5 332.8,381.2 320.1,370.7" stroke="#00ffff"/>
<polygon points="320.1,370.7 332.8,381.2 338.5,368.0 325.9,357.6" stroke="#10ffef"/>
<polygon points="325.9,357.6 338.5,368.0 344.1,355.1 331.7,344.7" stroke="#21ffde"/>
<polygon points="331.7,344.7 344.1,355.1 349.7,342.3 337.3,331.9" stroke="#32ffcd"/>
<polygon points="337.3,331.9 349.7,342.3 355.1,329.7 342.8,319.4" stroke="#43ffbc"/>
<polygon points="342.8,319.4 355.1,329.7 360.4,317.3 348.3,307.1" stroke="#54ffab"/>
<polygon points="348.3,307.1 360.4,317.3 365.7,305.0 353.6,294.9" stroke="#65ff9a"/>
<polygon points="353.6,294.9 365.7,305.0 370.8,293.0 358.9,283.0" stroke="#76ff89"/>
<polygon points="358.9,283.0 370.8,293.0 375.9,281.2 364.0,271.3" stroke="#87ff78"/>
<polygon points="364.0,271.3 375.9,281.2 380.9,269.6 369.1,259.8" stroke="#98ff67"/>
<polygon points="369.1,259.8 380.9,269.6 385.8,258.2 374.1,248.5" stroke="#a8ff57"/>
<polygon points="374.1,248.5 385.8,258.2 390.6,247.0 379.0,237.5" stroke="#b9ff46"/>
<polygon points="379.0,237.5 390.6,247.0 395.3,236.0 383.8,226.7" stroke="#c9ff36"/>
<polygon points="383.8,226.7 395.3,236.0 399.9,225.3 388.5,216.1" stroke="#daff25"/>
<polygon points="388.5,216.1 399.9,225.3 404.5,214.9 393.2,205.9" stroke="#e9ff16"/>
<polygon points="393.2,205.9 404.5,214.9 409.0,204.6 397.7,195.8" stroke="#f9ff06"/>
<polygon points="397.7,195.8 409.0,204.6 413.4,194.7 402.2,186.1" stroke="#fff600"/>
<polygon points="402.2,186.1 413.4,194.7 417.7,185.0 406.6,176.6" stroke="#ffe700"/>
<polygon points="406.6,176.6 417.7,185.0 421.9,175.5 410.9,167.4" stroke="#ffd800"/>
<polygon points="410.9,167.4 421.9,175.5 426.1,166.4 415.2,158.5" stroke="#ffca00"/>
<polygon points="415.2,158.5 426.1,166.4 430.2,157.5 419.3,149.8" stroke="#ffbc00"/>
<polygon points="419.3,149.8 430.2,157.5 434.2,148.9 423.4,141.4" stroke="#ffaf00"/>
<polygon points="423.4,141.4 434.2,148.9 438.1,140.5 427.3,133.3" stroke="#ffa200"/>
<polygon points="427.3,133.3 438.1,140.5 441.9,132.5 431.2,125.5" stroke="#ff9600"/>
<polygon points="431.2,125.5 441.9,132.5 445.6,124.7 435.1,118.0" stroke="#ff8a00"/>
<polygon points="435.1,118.0 445.6,124.7 449.3,117.1 438.8,110.7" stroke="#ff7e00"/>
<polygon points="438.8,110.7 449.3,117.1 452.9,109.9 442.5,103.7" stroke="#ff7300"/>
<polygon points="442.5,103.7 452.9,109.9 456.4,102.9 446.0,96.9" stroke="#ff6900"/>
<polygon points="446.0,96.9 456.4,102.9 459.8,96.2 449.5,90.4" stroke="#ff5f00"/>
<polygon points="449.5,90.4 459.8,96.2 463.2,89.7 452.9,84.2" stroke="#ff5500"/>
<polygon points="452.9,84.2 463.2,89.7 466.5,83.5 456.3,78.2" stroke="#ff4c00"/>
<polygon points="456.3,78.2 466.5,83.5 469.7,77.5 459.5,72.4" stroke="#ff4300"/>
<polygon points="459.5,72.4 469.7,77.5 472.8,71.7 462.7,66.9" stroke="#ff3b00"/>
<polygon points="462.7,66.9 472.8,71.7 474.3,68.9 464.3,64.2" stroke="#ff3300"/>
<polygon points="317.9,414.8 331.0,425.3 333.9,418.5 321.0,408.0" stroke="#00ccff"/>
<polygon points="321.0,408.0 333.9,418.5 339.8,404.9 326.9,394.5" stroke="#00dbff"/>
<polygon points="326.9,394.5 339.8,404.9 345.5,391.6 332.8,381.2" stroke="#00ebff"/>
<polygon points="332.8,381.2 345.5,391.6 351.2,378.4 338.5,368.0" stroke="#00fbff"/>
<polygon points="338.5,368.0 351.2,378.4 356.7,365.4 344.1,355.1" stroke="#0cfff3"/>
<polygon points="344.1,355.1 356.7,365.4 362.1,352.6 349.7,342.3" stroke="#1dffe2"/>
<polygon points="349.7,342.3 362.1,352.6 367.4,339.9 355.1,329.7" stroke="#2effd1"/>
<polygon points="355.1,329.7 367.4,339.9 372.6,327.4 360.4,317.3" stroke="#3fffc0"/>
<polygon points="360.4,317.3 372.6,327.4 377.8,315.1 365.7,305.0" stroke="#50ffaf"/>
<polygon points="365.7,305.0 377.8,315.1 382.8,303.0 370.8,293.0" stroke="#61ff9e"/>
<polygon points="370.8,293.0 382.8,303.0 387.8,291.1 375.9,281.2" stroke="#72ff8d"/>
<polygon points="375.9,281.2 387.8,291.1 392.7,279.4 380.9,269.6" stroke="#83ff7c"/>
<polygon points="380.9,269.6 392.7,279.4 397.5,267.9 385.8,258.2" stroke="#94ff6b"/>
<polygon points="385.8,258.2 397.5,267.9 402.2,256.6 390.6,247.0" stroke="#a5ff5a"/>
<polygon points="390.6,247.0 402.2,256.6 406.8,245.5 395.3,236.0" stroke="#b5ff4a"/>
<polygon points="395.3,236.0 406.8,245.5 411.4,234.6 399.9,225.3" stroke="#c6ff39"/>
<polygon points="399.9,225.3 411.4,234.6 415.9,224.0 404.5,214.9" stroke="#d6ff29"/>
<polygon points="404.5,214.9 415.9,224.0 420.3,213.6 409.0,204.6" stroke="#e6ff19"/>
<polygon points="409.0,204.6 420.3,213.6 424.6,203.4 413.4,194.7" stroke="#f6ff09"/>
<polygon points="413.4,194.7 424.6,203.4 428.8,193.5 417.7,185.0" stroke="#fff900"/>
<polygon points="417.7,185.0 428.8,193.5 433.0,183.9 421.9,175.5" stroke="#ffea00"/>
<polygon points="421.9,175.5 433.0,183.9 437.1,174.5 426.1,166.4" stroke="#ffdb00"/>
<polygon points="426.1,166.4 437.1,174.5 441.1,165.4 430.2,157.5" stroke="#ffcd00"/>
<polygon points="430.2,157.5 441.1,165.4 445.0,156.5 434.2,148.9" stroke="#ffbf00"/>
<polygon points="434.2,148.9 445.0,156.5 448.8,148.0 438.1,140.5" stroke="#ffb200"/>
<polygon points="438.1,140.5 448.8,148.0 452.6,139.6 441.9,132.5" stroke="#ffa500"/>
<polygon points="441.9,132.5 452.6,139.6 456.3,131.6 445.6,124.7" stroke="#ff9900"/>
<polygon points="445.6,124.7 456.3,131.6 459.9,123.8 449.3,117.1" stroke="#ff8d00"/>
<polygon points="449.3,117.1 459.9,123.8 463.4,116.3 452.9,109.9" stroke="#ff8100"/>
<polygon points="452.9,109.9 463.4,116.3 466.8,109.1 456.4,102.9" stroke="#ff7600"/>
<polygon points="456.4,102.9 466.8,109.1 470.2,102.1 459.8,96.2" stroke="#ff6b00"/>
<polygon points="459.8,96.2 470.2,102.1 473.5,95.4 463.2,89.7" stroke="#ff6100"/>
<polygon points="463.2,89.7 473.5,95.4 476.7,89.0 466.5,83.5" stroke="#ff5700"/>
<polygon points="466.5,83.5 476.7,89.0 479.8,82.7 469.7,77.5" stroke="#ff4e00"/>
<polygon points="469.7,77.5 479.8,82.7 482.9,76.8 472.8,71.7" stroke="#ff4500"/>
<polygon points="472.8,71.7 482.9,76.8 484.4,73.9 474.3,68.9" stroke="#ff3d00"/>
<polygon points="331.0,425.3 344.0,435.6 347.0,428.8 333.9,418.5" stroke="#00b9ff"/>
<polygon points="333.9,418.5 347.0,428.8 352.7,415.2 339.8,404.9" stroke="#00c8ff"/>
<polygon points="339.8,404.9 352.7,415.2 358.3,401.9 345.5,391.6" stroke="#00d8ff"/>
<polygon points="345.5,391.6 358.3,401.9 363.8,388.7 351.2,378.4" stroke="#00e7ff"/>
<polygon points="351.2,378.4 363.8,388.7 369.2,375.6 356.7,365.4" stroke="#00f7ff"/>
<polygon points="356.7,365.4 369.2,375.6 374.5,362.8 362.1,352.6" stroke="#09fff6"/>
<polygon points="362.1,352.6 374.5,362.8 379.8,350.1 367.4,339.9" stroke="#19ffe6"/>
<polygon points="367.4,339.9 379.8,350.1 384.9,337.6 372.6,327.4" stroke="#2affd5"/>
<polygon points="372.6,327.4 384.9,337.6 389.9,325.2 377.8,315.1" stroke="#3bffc4"/>
<polygon points="377.8,315.1 389.9,325.2 394.9,313.1 382.8,303.0" stroke="#4cffb3"/>
<polygon points="382.8,303.0 394.9,313.1 399.7,301.1 387.8,291.1" stroke="#5dffa2"/>
<polygon points="387.8,291.1 399.7,301.1 404.5,289.3 392.7,279.4" stroke="#6eff91"/>
<polygon points="392.7,279.4 404.5,289.3 409.2,277.7 397.5,267.9" stroke="#7fff80"/>
<polygon points="397.5,267.9 409.2,277.7 413.8,266.2 402.2,256.6" stroke="#90ff6f"/>
<polygon points="402.2,256.6 413.8,266.2 418.4,255.0 406.8,245.5" stroke="#a1ff5e"/>
<polygon points="406.8,245.5 418.4,255.0 422.8,244.0 411.4,234.6" stroke="#b1ff4e"/>
<polygon points="411.4,234.6 422.8,244.0 427.2,233.2 415.9,224.0" stroke="#c2ff3d"/>
<polygon points="415.9,224.0 427.2,233.2 431.6,222.7 420.3,213.6" stroke="#d2ff2d"/>
<polygon points="420.3,213.6 431.6,222.7 435.8,212.3 424.6,203.4" stroke="#e2ff1d"/>
<polygon points="424.6,203.4 435.8,212.3 440.0,202.2 428.8,193.5" stroke="#f2ff0d"/>
<polygon points="428.8,193.5 440.0,202.2 444.0,192.4 433.0,183.9" stroke="#fffd00"/>
<polygon points="433.0,183.9 444.0,192.4 448.0,182.8 437.1,174.5" stroke="#ffee00"/>
<polygon points="437.1,174.5 448.0,182.8 452.0,173.5 441.1,165.4" stroke="#ffdf00"/>
<polygon points="441.1,165.4 452.0,173.5 455.8,164.4 445.0,156.5" stroke="#ffd000"/>
<polygon points="445.0,156.5 455.8,164.4 459.6,155.6 448.8,148.0" stroke="#ffc300"/>
<polygon points="448.8,148.0 459.6,155.6 463.3,147.1 452.6,139.6" stroke="#ffb500"/>
<polygon points="452.6,139.6 463.3,147.1 466.9,138.8 456.3,131.6" stroke="#ffa800"/>
<polygon points="456.3,131.6 466.9,138.8 470.5,130.8 459.9,123.8" stroke="#ff9b00"/>
<polygon points="459.9,123.8 470.5,130.8 473.9,123.0 463.4,116.3" stroke="#ff8f00"/>
<polygon points="463.4,116.3 473.9,123.0 477.3,115.5 466.8,109.1" stroke="#ff8400"/>
<polygon points="466.8,109.1 477.3,115.5 480.6,108.3 470.2,102.1" stroke="#ff7800"/>
<polygon points="470.2,102.1 480.6,108.3 483.8,101.4 473.5,95.4" stroke="#ff6e00"/>
<polygon points="473.5,95.4 483.8,101.4 487.0,94.7 476.7,89.0" stroke="#ff6300"/>
<polygon points="476.7,89.0 487.0,94.7 490.0,88.2 479.8,82.7" stroke="#ff5900"/>
<polygon points="479.8,82.7 490.0,88.2 493.0,82.0 482.9,76.8" stroke="#ff5000"/>
<polygon points="482.9,76.8 493.0,82.0 494.5,79.0 484.4,73.9" stroke="#ff4700"/>
<polygon points="344.0,435.6 357.2,445.9 360.0,439.0 347.0,428.8" stroke="#00a7ff"/>
<polygon points="347.0,428.8 360.0,439.0 365.7,425.5 352.7,415.2" stroke="#00b6ff"/>
<polygon points="352.7,415.2 365.7,425.5 371.1,412.1 358.3,401.9" stroke="#00c5ff"/>
<polygon points="358.3,401.9 371.1,412.1 376.5,398.9 363.8,388.7" stroke="#00d4ff"/>
<polygon points="363.8,388.7 376.5,398.9 381.8,385.8 369.2,375.6" stroke="#00e4ff"/>
<polygon points="369.2,375.6 381.8,385.8 387.0,372.9 374.5,362.8" stroke="#00f4ff"/>
<polygon points="374.5,362.8 387.0,372.9 392.1,360.2 379.8,350.1" stroke="#05fffa"/>
<polygon points="379.8,350.1 392.1,360.2 397.1,347.7 384.9,337.6" stroke="#15ffea"/>
<polygon points="384.9,337.6 397.1,347.7 402.1,335.3 389.9,325.2" stroke="#26ffd9"/>
<polygon points="389.9,325.2 402.1,335.3 406.9,323.1 394.9,313.1" stroke="#37ffc8"/>
<polygon points="394.9,313.1 406.9,323.1 411.7,311.0 399.7,301.1" stroke="#48ffb7"/>
<polygon points="399.7,301.1 411.7,311.0 416.4,299.1 404.5,289.3" stroke="#59ffa6"/>
<polygon points="404.5,289.3 416.4,299.1 421.0,287.4 409.2,277.7" stroke="#6aff95"/>
<polygon points="409.2,277.7 421.0,287.4 425.5,275.9 413.8,266.2" stroke="#7bff84"/>
<polygon points="413.8,266.2 425.5,275.9 429.9,264.6 418.4,255.0" stroke="#8cff73"/>
<polygon points="418.4,255.0 429.9,264.6 434.3,253.5 422.8,244.0" stroke="#9dff62"/>
<polygon points="422.8,244.0 434.3,253.5 438.6,242.6 427.2,233.2" stroke="#aeff51"/>
<polygon points="427.2,233.2 438.6,242.6 442.9,231.9 431.6,222.7" stroke="#beff41"/>
<polygon points="431.6,222.7 442.9,231.9 447.0,221.4 435.8,212.3" stroke="#ceff31"/>
<polygon points="435.8,212.3 447.0,221.4 451.1,211.1 440.0,202.2" stroke="#dfff20"/>
<polygon points="440.0,202.2 451.1,211.1 455.1,201.1 444.0,192.4" stroke="#eeff11"/>
<polygon points="444.0,192.4 455.1,201.1 459.1,191.3 448.0,182.8" stroke="#feff01"/>
<polygon points="448.0,182.8 459.1,191.3 462.9,181.8 452.0,173.5" stroke="#fff100"/>
<polygon points="452.0,173.5 462.9,181.8 466.7,172.5 455.8,164.4" stroke="#ffe200"/>
<polygon points="455.8,164.4 466.7,172.5 470.4,163.5 459.6,155.6" stroke="#ffd400"/>
<polygon points="459.6,155.6 470.4,163.5 474.0,154.7 463.3,147.1" stroke="#ffc600"/>
<polygon points="463.3,147.1 474.0,154.7 477.6,146.2 466.9,138.8" stroke="#ffb800"/>
<polygon points="466.9,138.8 477.6,146.2 481.1,137.9 470.5,130.8" stroke="#ffab00"/>
<polygon points="470.5,130.8 481.1,137.9 484.5,130.0 473.9,123.0" stroke="#ff9e00"/>
<polygon points="473.9,123.0 484.5,130.0 487.8,122.2 477.3,115.5" stroke="#ff9200"/>
<polygon points="477.3,115.5 487.8,122.2 491.0,114.8 480.6,108.3" stroke="#ff8600"/>
<polygon points="480.6,108.3 491.0,114.8 494.2,107.6 483.8,101.4" stroke="#ff7b00"/>
<polygon points="483.8,101.4 494.2,107.6 497.3,100.7 487.0,94.7" stroke="#ff7000"/>
<polygon points="487.0,94.7 497.3,100.7 500.3,94.0 490.0,88.2" stroke="#ff6600"/>
<polygon points="490.0,88.2 500.3,94.0 503.2,87.5 493.0,82.0" stroke="#ff5c00"/>
<polygon points="493.0,82.0 503.2,87.5 504.7,84.4 494.5,79.0" stroke="#ff5200"/>
<polygon points="357.2,445.9 370.4,456.0 373.2,449.1 360.0,439.0" stroke="#0095ff"/>
<polygon points="360.0,439.0 373.2,449.1 378.7,435.6 365.7,425.5" stroke="#00a4ff"/>
<polygon points="365.7,425.5 378.7,435.6 384.0,422.2 371.1,412.1" stroke="#00b2ff"/>
<polygon points="371.1,412.1 384.0,422.2 389.3,408.9 376.5,398.9" stroke="#00c1ff"/>
<polygon points="376.5,398.9 389.3,408.9 394.5,395.9 381.8,385.8" stroke="#00d0ff"/>
<polygon points="381.8,385.8 394.5,395.9 399.6,383.0 387.0,372.9" stroke="#00e0ff"/>
<polygon points="387.0,372.9 399.6,383.0 404.5,370.3 392.1,360.2" stroke="#00f0ff"/>
<polygon points="392.1,360.2 404.5,370.3 409.4,357.7 397.1,347.7" stroke="#01fffe"/>
<polygon points="397.1,347.7 409.4,357.7 414.3,345.3 402.1,335.3" stroke="#12ffed"/>
<polygon points="402.1,335.3 414.3,345.3 419.0,333.0 406.9,323.1" stroke="#22ffdd"/>
<polygon points="406.9,323.1 419.0,333.0 423.6,320.9 411.7,311.0" stroke="#33ffcc"/>
<polygon points="411.7,311.0 423.6,320.9 428.2,309.0 416.4,299.1" stroke="#44ffbb"/>
<polygon points="416.4,299.1 428.2,309.0 432.7,297.2 421.0,287.4" stroke="#55ffaa"/>
<polygon points="421.0,287.4 432.7,297.2 437.2,285.6 425.5,275.9" stroke="#66ff99"/>
<polygon points="425.5,275.9 437.2,285.6 441.5,274.2 429.9,264.6" stroke="#77ff88"/>
<polygon points="429.9,264.6 441.5,274.2 445.8,263.0 434.3,253.5" stroke="#88ff77"/>
<polygon points="434.3,253.5 445.8,263.0 450.0,252.0 438.6,242.6" stroke="#99ff66"/>
<polygon points="438.6,242.6 450.0,252.0 454.2,241.1 442.9,231.9" stroke="#aaff55"/>
<polygon points="442.9,231.9 454.2,241.1 458.3,230.5 447.0,221.4" stroke="#baff45"/>
<polygon points="447.0,221.4 458.3,230.5 462.3,220.1 451.1,211.1" stroke="#cbff34"/>
<polygon points="451.1,211.1 462.3,220.1 466.2,209.9 455.1,201.1" stroke="#dbff24"/>
<polygon points="455.1,201.1 466.2,209.9 470.1,199.9 459.1,191.3" stroke="#ebff14"/>
<polygon points="459.1,191.3 470.1,199.9 473.9,190.2 462.9,181.8" stroke="#faff05"/>
<polygon points="462.9,181.8 473.9,190.2 477.6,180.7 466.7,172.5" stroke="#fff400"/>
<polygon points="466.7,172.5 477.6,180.7 481.2,171.5 470.4,163.5" stroke="#ffe500"/>
<polygon points="470.4,163.5 481.2,171.5 484.8,162.5 474.0,154.7" stroke="#ffd700"/>
<polygon points="474.0,154.7 484.8,162.5 488.3,153.8 477.6,146.2" stroke="#ffc900"/>
<polygon points="477.6,146.2 488.3,153.8 491.7,145.3 481.1,137.9" stroke="#ffbb00"/>
<polygon points="481.1,137.9 491.7,145.3 495.0,137.1 484.5,130.0" stroke="#ffae00"/>
<polygon points="484.5,130.0 495.0,137.1 498.3,129.1 487.8,122.2" stroke="#ffa100"/>
<polygon points="487.8,122.2 498.3,129.1 501.5,121.5 491.0,114.8" stroke="#ff9500"/>
<polygon points="491.0,114.8 501.5,121.5 504.6,114.0 494.2,107.6" stroke="#ff8900"/>
<polygon points="494.2,107.6 504.6,114.0 507.6,106.9 497.3,100.7" stroke="#ff7d00"/>
<polygon points="497.3,100.7 507.6,106.9 510.6,99.9 500.3,94.0" stroke="#ff7200"/>
<polygon points="500.3,94.0 510.6,99.9 513.5,93.3 503.2,87.5" stroke="#ff6800"/>
<polygon points="503.2,87.5 513.5,93.3 514.9,90.0 504.7,84.4" stroke="#ff5e00"/>
<polygon points="370.4,456.0 383.7,466.0 386.4,459.2 373.2,449.1" stroke="#0085ff"/>
<polygon points="373.2,449.1 386.4,459.2 391.8,445.6 378.7,435.6" stroke="#0092ff"/>
<polygon points="378.7,435.6 391.8,445.6 397.0,432.2 384.0,422.2" stroke="#00a0ff"/>
<polygon points="384.0,422.2 397.0,432.2 402.1,418.9 389.3,408.9" stroke="#00afff"/>
<polygon points="389.3,408.9 402.1,418.9 407.2,405.9 394.5,395.9" stroke="#00beff"/>
<polygon points="394.5,395.9 407.2,405.9 412.1,393.0 399.6,383.0" stroke="#00cdff"/>
<polygon points="399.6,383.0 412.1,393.0 417.0,380.2 404.5,370.3" stroke="#00dcff"/>
<polygon points="404.5,370.3 417.0,380.2 421.8,367.6 409.4,357.7" stroke="#00ecff"/>
<polygon points="409.4,357.7 421.8,367.6 426.5,355.2 414.3,345.3" stroke="#00fdff"/>
<polygon points="414.3,345.3 426.5,355.2 431.1,342.9 419.0,333.0" stroke="#0efff1"/>
<polygon points="419.0,333.0 431.1,342.9 435.7,330.8 423.6,320.9" stroke="#1fffe0"/>
<polygon points="423.6,320.9 435.7,330.8 440.1,318.8 428.2,309.0" stroke="#2fffd0"/>
<polygon points="428.2,309.0 440.1,318.8 444.5,307.0 432.7,297.2" stroke="#40ffbf"/>
<polygon points="432.7,297.2 444.5,307.0 448.9,295.4 437.2,285.6" stroke="#51ffae"/>
<polygon points="437.2,285.6 448.9,295.4 453.1,283.9 441.5,274.2" stroke="#62ff9d"/>
<polygon points="441.5,274.2 453.1,283.9 457.3,272.6 445.8,263.0" stroke="#73ff8c"/>
<polygon points="445.8,263.0 457.3,272.6 461.5,261.4 450.0,252.0" stroke="#84ff7b"/>
<polygon points="450.0,252.0 461.5,261.4 465.5,250.5 454.2,241.1" stroke="#95ff6a"/>
<polygon points="454.2,241.1 465.5,250.5 469.5,239.7 458.3,230.5" stroke="#a6ff59"/>
<polygon points="458.3,230.5 469.5,239.7 473.5,229.2 462.3,220.1" stroke="#b7ff48"/>
<polygon points="462.3,220.1 473.5,229.2 477.3,218.8 466.2,209.9" stroke="#c7ff38"/>
<polygon points="466.2,209.9 477.3,218.8 481.1,208.7 470.1,199.9" stroke="#d7ff28"/>
<polygon points="470.1,199.9 481.1,208.7 484.8,198.8 473.9,190.2" stroke="#e7ff18"/>
<polygon points="473.9,190.2 484.8,198.8 488.5,189.2 477.6,180.7" stroke="#f7ff08"/>
<polygon points="477.6,180.7 488.5,189.2 492.0,179.7 481.2,171.5" stroke="#fff800"/>
<polygon points="481.2,171.5 492.0,179.7 495.5,170.5 484.8,162.5" stroke="#ffe900"/>
<polygon points="484.8,162.5 495.5,170.5 499.0,161.6 488.3,153.8" stroke="#ffda00"/>
<polygon points="488.3,153.8 499.0,161.6 502.3,152.9 491.7,145.3" stroke="#ffcc00"/>
<polygon points="491.7,145.3 502.3,152.9 505.6,144.5 495.0,137.1" stroke="#ffbe00"/>
<polygon points="495.0,137.1 505.6,144.5 508.8,136.3 498.3,129.1" stroke="#ffb100"/>
<polygon points="498.3,129.1 508.8,136.3 511.9,128.4 501.5,121.5" stroke="#ffa400"/>
<polygon points="501.5,121.5 511.9,128.4 515.0,120.7 504.6,114.0" stroke="#ff9800"/>
<polygon points="504.6,114.0 515.0,120.7 518.0,113.3 507.6,106.9" stroke="#ff8c00"/>
<polygon points="507.6,106.9 518.0,113.3 520.9,106.1 510.6,99.9" stroke="#ff8000"/>
<polygon points="510.6,99.9 520.9,106.1 523.7,99.2 513.5,93.3" stroke="#ff7500"/>
<polygon points="513.5,93.3 523.7,99.2 525.1,95.9 514.9,90.0" stroke="#ff6a00"/>
<polygon points="383.7,466.0 397.1,476.0 399.8,469.1 386.4,459.2" stroke="#0074ff"/>
<polygon points="386.4,459.2 399.8,469.1 405.0,455.5 391.8,445.6" stroke="#0082ff"/>
<polygon points="391.8,445.6 405.0,455.5 410.1,442.1 397.0,432.2" stroke="#008fff"/>
<polygon points="397.0,432.2 410.1,442.1 415.1,428.8 402.1,418.9" stroke="#009dff"/>
<polygon points="402.1,418.9 415.1,428.8 420.0,415.7 407.2,405.9" stroke="#00abff"/>
<polygon points="407.2,405.9 420.0,415.7 424.8,402.8 412.1,393.0" stroke="#00baff"/>
<polygon points="412.1,393.0 424.8,402.8 429.5,390.1 417.0,380.2" stroke="#00c9ff"/>
<polygon points="417.0,380.2 429.5,390.1 434.2,377.5 421.8,367.6" stroke="#00d9ff"/>
<polygon points="421.8,367.6 434.2,377.5 438.8,365.0 426.5,355.2" stroke="#00e9ff"/>
<polygon points="426.5,355.2 438.8,365.0 443.3,352.7 431.1,342.9" stroke="#00f9ff"/>
<polygon points="431.1,342.9 443.3,352.7 447.7,340.6 435.7,330.8" stroke="#0afff5"/>
<polygon points="435.7,330.8 447.7,340.6 452.1,328.6 440.1,318.8" stroke="#1bffe4"/>
<polygon points="440.1,318.8 452.1,328.6 456.4,316.7 444.5,307.0" stroke="#2bffd4"/>
<polygon points="444.5,307.0 456.4,316.7 460.6,305.0 448.9,295.4" stroke="#3cffc3"/>
<polygon points="448.9,295.4 460.6,305.0 464.8,293.5 453.1,283.9" stroke="#4dffb2"/>
<polygon points="453.1,283.9 464.8,293.5 468.9,282.1 457.3,272.6" stroke="#5effa1"/>
<polygon points="457.3,272.6 468.9,282.1 472.9,270.9 461.5,261.4" stroke="#6fff90"/>
<polygon points="461.5,261.4 472.9,270.9 476.9,259.9 465.5,250.5" stroke="#80ff7f"/>
<polygon points="465.5,250.5 476.9,259.9 480.8,249.0 469.5,239.7" stroke="#91ff6e"/>
<polygon points="469.5,239.7 480.8,249.0 484.6,238.4 473.5,229.2" stroke="#a2ff5d"/>
<polygon points="473.5,229.2 484.6,238.4 488.4,227.9 477.3,218.8" stroke="#b3ff4c"/>
<polygon points="477.3,218.8 488.4,227.9 492.1,217.6 481.1,208.7" stroke="#c3ff3c"/>
<polygon points="481.1,208.7 492.1,217.6 495.8,207.6 484.8,198.8" stroke="#d4ff2b"/>
<polygon points="484.8,198.8 495.8,207.6 499.4,197.7 488.5,189.2" stroke="#e4ff1b"/>
<polygon points="488.5,189.2 499.4,197.7 502.9,188.1 492.0,179.7" stroke="#f3ff0c"/>
<polygon points="492.0,179.7 502.9,188.1 506.3,178.7 495.5,170.5" stroke="#fffb00"/>
<polygon points="495.5,170.5 506.3,178.7 509.7,169.6 499.0,161.6" stroke="#ffec00"/>
<polygon points="499.0,161.6 509.7,169.6 513.0,160.7 502.3,152.9" stroke="#ffde00"/>
<polygon points="502.3,152.9 513.0,160.7 516.2,152.0 505.6,144.5" stroke="#ffcf00"/>
<polygon points="505.6,144.5 516.2,152.0 519.3,143.6 508.8,136.3" stroke="#ffc100"/>
<polygon points="508.8,136.3 519.3,143.6 522.4,135.5 511.9,128.4" stroke="#ffb400"/>
<polygon points="511.9,128.4 522.4,135.5 525.4,127.6 515.0,120.7" stroke="#ffa700"/>
<polygon points="515.0,120.7 525.4,127.6 528.3,120.0 518.0,113.3" stroke="#ff9a00"/>
<polygon points="518.0,113.3 528.3,120.0 531.2,112.6 520.9,106.1" stroke="#ff8e00"/>
<polygon points="520.9,106.1 531.2,112.6 534.0,105.4 523.7,99.2" stroke="#ff8300"/>
<polygon points="523.7,99.2 534.0,105.4 535.4,102.0 525.1,95.9" stroke="#ff7700"/>
<polygon points="397.1,476.0 410.6,485.8 413.2,478.9 399.8,469.1" stroke="#0065ff"/>
<polygon points="399.8,469.1 413.2,478.9 418.2,465.3 405.0,455.5" stroke="#0071ff"/>
<polygon points="405.0,455.5 418.2,465.3 423.2,451.8 410.1,442.1" stroke="#007eff"/>
<polygon points="410.1,442.1 423.2,451.8 428.0,438.6 415.1,428.8" stroke="#008cff"/>
<polygon points="415.1,428.8 428.0,438.6 432.8,425.5 420.0,415.7" stroke="#009aff"/>
<polygon points="420.0,415.7 432.8,425.5 437.5,412.6 424.8,402.8" stroke="#00a8ff"/>
<polygon points="424.8,402.8 437.5,412.6 442.1,399.8 429.5,390.1" stroke="#00b7ff"/>
<polygon points="429.5,390.1 442.1,399.8 446.6,387.2 434.2,377.5" stroke="#00c6ff"/>
<polygon points="434.2,377.5 446.6,387.2 451.1,374.8 438.8,365.0" stroke="#00d5ff"/>
<polygon points="438.8,365.0 451.1,374.8 455.5,362.5 443.3,352.7" stroke="#00e5ff"/>
<polygon points="443.3,352.7 455.5,362.5 459.8,350.3 447.7,340.6" stroke="#00f5ff"/>
<polygon points="447.7,340.6 459.8,350.3 464.0,338.3 452.1,328.6" stroke="#06fff9"/>
<polygon points="452.1,328.6 464.0,338.3 468.2,326.4 456.4,316.7" stroke="#17ffe8"/>
<polygon points="456.4,316.7 468.2,326.4 472.4,314.7 460.6,305.0" stroke="#28ffd7"/>
<polygon points="460.6,305.0 472.4,314.7 476.4,303.1 464.8,293.5" stroke="#38ffc7"/>
<polygon points="464.8,293.5 476.4,303.1 480.4,291.7 468.9,282.1" stroke="#49ffb6"/>
<polygon points="468.9,282.1 480.4,291.7 484.4,280.4 472.9,270.9" stroke="#5affa5"/>
<polygon points="472.9,270.9 484.4,280.4 488.3,269.3 476.9,259.9" stroke="#6bff94"/>
<polygon points="476.9,259.9 488.3,269.3 492.1,258.3 480.8,249.0" stroke="#7cff83"/>
<polygon points="480.8,249.0 492.1,258.3 495.8,247.6 484.6,238.4" stroke="#8dff72"/>
<polygon points="484.6,238.4 495.8,247.6 499.5,237.0 488.4,227.9" stroke="#9eff61"/>
<polygon points="488.4,227.9 499.5,237.0 503.2,226.6 492.1,217.6" stroke="#afff50"/>
<polygon points="492.1,217.6 503.2,226.6 506.7,216.4 495.8,207.6" stroke="#c0ff3f"/>
<polygon points="495.8,207.6 506.7,216.4 510.3,206.4 499.4,197.7" stroke="#d0ff2f"/>
<polygon points="499.4,197.7 510.3,206.4 513.7,196.6 502.9,188.1" stroke="#e0ff1f"/>
<polygon points="502.9,188.1 513.7,196.6 517.1,187.1 506.3,178.7" stroke="#f0ff0f"/>
<polygon points="506.3,178.7 517.1,187.1 520.4,177.8 509.7,169.6" stroke="#ffff00"/>
<polygon points="509.7,169.6 520.4,177.8 523.6,168.7 513.0,160.7" stroke="#fff000"/>
<polygon points="513.0,160.7 523.6,168.7 526.8,159.8 516.2,152.0" stroke="#ffe100"/>
<polygon points="516.2,152.0 526.8,159.8 529.9,151.2 519.3,143.6" stroke="#ffd200"/>
<polygon points="519.3,143.6 529.9,151.2 532.9,142.8 522.4,135.5" stroke="#ffc500"/>
<polygon points="522.4,135.5 532.9,142.8 535.9,134.7 525.4,127.6" stroke="#ffb700"/>
<polygon points="525.4,127.6 535.9,134.7 538.7,126.8 528.3,120.0" stroke="#ffaa00"/>
<polygon points="528.3,120.0 538.7,126.8 541.5,119.2 531.2,112.6" stroke="#ff9d00"/>
<polygon points="531.2,112.6 541.5,119.2 544.3,111.9 534.0,105.4" stroke="#ff9100"/>
<polygon points="534.0,105.4 544.3,111.9 545.6,108.3 535.4,102.0" stroke="#ff8500"/>
<polygon points="410.6,485.8 417.4,490.7 419.9,483.8 413.2,478.9" stroke="#0056ff"/>
<polygon points="413.2,478.9 419.9,483.8 424.9,470.1 418.2,465.3" stroke="#0062ff"/>
<polygon points="418.2,465.3 424.9,470.1 429.8,456.7 423.2,451.8" stroke="#006fff"/>
<polygon points="423.2,451.8 429.8,456.7 434.6,443.4 428.0,438.6" stroke="#007bff"/>
<polygon points="428.0,438.6 434.6,443.4 439.3,430.3 432.8,425.5" stroke="#0089ff"/>
<polygon points="432.8,425.5 439.3,430.3 443.9,417.4 437.5,412.6" stroke="#0097ff"/>
<polygon points="437.5,412.6 443.9,417.4 448.4,404.7 442.1,399.8" stroke="#00a5ff"/>
<polygon points="442.1,399.8 448.4,404.7 452.9,392.1 446.6,387.2" stroke="#00b3ff"/>
<polygon points="446.6,387.2 452.9,392.1 457.3,379.6 451.1,374.8" stroke="#00c2ff"/>
<polygon points="451.1,374.8 457.3,379.6 461.6,367.3 455.5,362.5" stroke="#00d2ff"/>
<polygon points="455.5,362.5 461.6,367.3 465.9,355.2 459.8,350.3" stroke="#00e1ff"/>
<polygon points="459.8,350.3 465.9,355.2 470.1,343.1 464.0,338.3" stroke="#00f1ff"/>
<polygon points="464.0,338.3 470.1,343.1 474.2,331.2 468.2,326.4" stroke="#03fffc"/>
<polygon points="468.2,326.4 474.2,331.2 478.3,319.5 472.4,314.7" stroke="#13ffec"/>
<polygon points="472.4,314.7 478.3,319.5 482.3,307.9 476.4,303.1" stroke="#24ffdb"/>
<polygon points="476.4,303.1 482.3,307.9 486.2,296.4 480.4,291.7" stroke="#35ffca"/>
<polygon points="480.4,291.7 486.2,296.4 490.1,285.1 484.4,280.4" stroke="#45ffba"/>
<polygon points="484.4,280.4 490.1,285.1 493.9,274.0 488.3,269.3" stroke="#57ffa8"/>
<polygon points="488.3,269.3 493.9,274.0 497.7,263.0 492.1,258.3" stroke="#68ff97"/>
<polygon points="492.1,258.3 497.7,263.0 501.4,252.2 495.8,247.6" stroke="#79ff86"/>
<polygon points="495.8,247.6 501.4,252.2 505.1,241.6 499.5,237.0" stroke="#8aff75"/>
<polygon points="499.5,237.0 505.1,241.6 508.7,231.1 503.2,226.6" stroke="#9aff65"/>
<polygon points="503.2,226.6 508.7,231.1 512.2,220.9 506.7,216.4" stroke="#abff54"/>
<polygon points="506.7,216.4 512.2,220.9 515.7,210.8 510.3,206.4" stroke="#bcff43"/>
<polygon points="510.3,206.4 515.7,210.8 519.1,200.9 513.7,196.6" stroke="#ccff33"/>
<polygon points="513.7,196.6 519.1,200.9 522.5,191.3 517.1,187.1" stroke="#dcff23"/>
<polygon points="517.1,187.1 522.5,191.3 525.7,181.9 520.4,177.8" stroke="#ecff13"/>
<polygon points="520.4,177.8 525.7,181.9 528.9,172.7 523.6,168.7" stroke="#fcff03"/>
<polygon points="523.6,168.7 528.9,172.7 532.1,163.8 526.8,159.8" stroke="#fff300"/>
<polygon points="526.8,159.8 532.1,163.8 535.1,155.0 529.9,151.2" stroke="#ffe400"/>
<polygon points="529.9,151.2 535.1,155.0 538.1,146.6 532.9,142.8" stroke="#ffd600"/>
<polygon points="532.9,142.8 538.1,146.6 541.1,138.3 535.9,134.7" stroke="#ffc800"/>
<polygon points="535.9,134.7 541.1,138.3 543.9,130.4 538.7,126.8" stroke="#ffba00"/>
<polygon points="538.7,126.8 543.9,130.4 546.7,122.6 541.5,119.2" stroke="#ffad00"/>
<polygon points="541.5,119.2 546.7,122.6 549.4,115.2 544.3,111.9" stroke="#ffa000"/>
<polygon points="544.3,111.9 549.4,115.2 550.8,111.5 545.6,108.3" stroke="#ff9400"/>
</g>
<line x1="151.0" y1="372.4" x2="72.1" y2="98.6" stroke="#000" stroke-width="1.5" stroke-linecap="butt"/>
<g id="top" stroke-width="1.85" stroke-linejoin="miter">
<path d="M163.8 52.0l5.4 5.4l-5.4 5.4l-5.4 -5.4z" fill="#800000" stroke="#ff8c00"/>
<path d="M222.4 31.5l5.4 5.4l-5.4 5.4l-5.4 -5.4z" fill="#800000" stroke="#ff6000"/>
<path d="M229.9 55.3l5.4 5.4l-5.4 5.4l-5.4 -5.4z" fill="#800000" stroke="#ff8c00"/>
<path d="M233.8 61.2l5.4 5.4l-5.4 5.4l-5.4 -5.4z" fill="#800000" stroke="#ffc800"/>
<path d="M226.7 65.0l5.4 5.4l-5.4 5.4l-5.4 -5.4z" fill="#800000" stroke="#ffc800"/>
<path d="M219.4 68.9l5.4 5.4l-5.4 5.4l-5.4 -5.4z" fill="#800000" stroke="#ffee00"/>
<path d="M256.0 65.7l5.4 5.4l-5.4 5.4l-5.4 -5.4z" fill="#800000" stroke="#c8ff32"/>
<path d="M281.5 51.0l5.4 5.4l-5.4 5.4l-5.4 -5.4z" fill="#800000" stroke="#ffee00"/>
<path d="M280.3 60.3l5.4 5.4l-5.4 5.4l-5.4 -5.4z" fill="#800000" stroke="#ffee00"/>
<path d="M231.6 89.4l5.4 5.4l-5.4 5.4l-5.4 -5.4z" fill="#800000" stroke="#80ff80"/>
<path d="M263.7 90.2l5.4 5.4l-5.4 5.4l-5.4 -5.4z" fill="#800000" stroke="#ff8c00"/>
<path d="M269.0 97.8l5.4 5.4l-5.4 5.4l-5.4 -5.4z" fill="#800000" stroke="#ff8c00"/>
<path d="M276.2 93.0l5.4 5.4l-5.4 5.4l-5.4 -5.4z" fill="#800000" stroke="#ff8c00"/>
<path d="M289.1 95.8l5.4 5.4l-5.4 5.4l-5.4 -5.4z" fill="#800000" stroke="#ff8c00"/>
<path d="M295.9 91.0l5.4 5.4l-5.4 5.4l-5.4 -5.4z" fill="#800000" stroke="#ff8c00"/>
<path d="M309.5 34.8l5.4 5.4l-5.4 5.4l-5.4 -5.4z" fill="#800000" stroke="#ff8c00"/>
<path d="M320.9 63.1l5.4 5.4l-5.4 5.4l-5.4 -5.4z" fill="#800000" stroke="#ff3a00"/>
<path d="M321.2 73.4l5.4 5.4l-5.4 5.4l-5.4 -5.4z" fill="#800000" stroke="#ff6000"/>
<path d="M343.6 57.9l5.4 5.4l-5.4 5.4l-5.4 -5.4z" fill="#800000" stroke="#f00000"/>
<path d="M355.4 60.0l5.4 5.4l-5.4 5.4l-5.4 -5.4z" fill="#800000" stroke="#f00000"/>
<path d="M360.5 56.3l5.4 5.4l-5.4 5.4l-5.4 -5.4z" fill="#800000" stroke="#f00000"/>
<path d="M351.7 74.1l5.4 5.4l-5.4 5.4l-5.4 -5.4z" fill="#800000" stroke="#ff6000"/>
<path d="M384.4 60.7l5.4 5.4l-5.4 5.4l-5.4 -5.4z" fill="#800000" stroke="#ff3a00"/>
<path d="M380.1 90.7l5.4 5.4l-5.4 5.4l-5.4 -5.4z" fill="#800000" stroke="#ff8c00"/>
<path d="M409.2 65.1l5.4 5.4l-5.4 5.4l-5.4 -5.4z" fill="#800000" stroke="#ff3a00"/>
<path d="M426.2 63.5l5.4 5.4l-5.4 5.4l-5.4 -5.4z" fill="#800000" stroke="#ff6000"/>
<path d="M448.1 72.1l5.4 5.4l-5.4 5.4l-5.4 -5.4z" fill="#800000" stroke="#ff8c00"/>
<path d="M461.5 74.5l5.4 5.4l-5.4 5.4l-5.4 -5.4z" fill="#800000" stroke="#ff8c00"/>
<path d="M440.0 80.6l5.4 5.4l-5.4 5.4l-5.4 -5.4z" fill="#800000" stroke="#ff8c00"/>
<path d="M398.9 88.8l5.4 5.4l-5.4 5.4l-5.4 -5.4z" fill="#800000" stroke="#ff8c00"/>
<path d="M445.4 92.3l5.4 5.4l-5.4 5.4l-5.4 -5.4z" fill="#800000" stroke="#ffb000"/>
<path d="M461.1 93.7l5.4 5.4l-5.4 5.4l-5.4 -5.4z" fill="#800000" stroke="#ffee00"/>
<path d="M455.7 100.0l5.4 5.4l-5.4 5.4l-5.4 -5.4z" fill="#800000" stroke="#ffee00"/>
<path d="M436.6 102.1l5.4 5.4l-5.4 5.4l-5.4 -5.4z" fill="#800000" stroke="#ffee00"/>
<path d="M447.0 110.3l5.4 5.4l-5.4 5.4l-5.4 -5.4z" fill="#800000" stroke="#ffee00"/>
<path d="M442.3 115.8l5.4 5.4l-5.4 5.4l-5.4 -5.4z" fill="#800000" stroke="#c8ff32"/>
<path d="M416.9 123.8l5.4 5.4l-5.4 5.4l-5.4 -5.4z" fill="#800000" stroke="#c8ff32"/>
<path d="M469.6 128.3l5.4 5.4l-5.4 5.4l-5.4 -5.4z" fill="#800000" stroke="#80ff80"/>
<path d="M416.6 146.3l5.4 5.4l-5.4 5.4l-5.4 -5.4z" fill="#800000" stroke="#50ffb8"/>
<path d="M349.2 102.5l5.4 5.4l-5.4 5.4l-5.4 -5.4z" fill="#800000" stroke="#ffb000"/>
<path d="M343.0 107.6l5.4 5.4l-5.4 5.4l-5.4 -5.4z" fill="#800000" stroke="#ffb000"/>
<path d="M363.2 105.5l5.4 5.4l-5.4 5.4l-5.4 -5.4z" fill="#800000" stroke="#ffb000"/>
<path d="M344.5 121.9l5.4 5.4l-5.4 5.4l-5.4 -5.4z" fill="#800000" stroke="#ffee00"/>
<path d="M316.0 146.8l5.4 5.4l-5.4 5.4l-5.4 -5.4z" fill="#800000" stroke="#00ffff"/>
<path d="M264.9 125.7l5.4 5.4l-5.4 5.4l-5.4 -5.4z" fill="#800000" stroke="#78ffa8"/>
<path d="M256.6 131.8l5.4 5.4l-5.4 5.4l-5.4 -5.4z" fill="#800000" stroke="#50ffb8"/>
<path d="M434.3 176.7l5.4 5.4l-5.4 5.4l-5.4 -5.4z" fill="#800000" stroke="#00a8ff"/>
<path d="M532.4 87.3l5.4 5.4l-5.4 5.4l-5.4 -5.4z" fill="#800000" stroke="#ffee00"/>
<path d="M482.3 23.5l5.4 5.4l-5.4 5.4l-5.4 -5.4z" fill="#800000" stroke="#f00000"/>
</g>
<g id="ticks">
<line x1="151.0" y1="372.4" x2="138.3" y2="374.3" stroke="#000" stroke-width="1.65" stroke-linecap="round"/>
<line x1="139.0" y1="331.0" x2="125.1" y2="333.0" stroke="#000" stroke-width="1.65" stroke-linecap="round"/>
<line x1="125.5" y1="284.2" x2="110.4" y2="286.4" stroke="#000" stroke-width="1.65" stroke-linecap="round"/>
<line x1="110.2" y1="230.9" x2="93.7" y2="233.3" stroke="#000" stroke-width="1.65" stroke-linecap="round"/>
<line x1="92.5" y1="169.7" x2="74.8" y2="172.3" stroke="#000" stroke-width="1.65" stroke-linecap="round"/>
<line x1="72.1" y1="98.6" x2="53.1" y2="101.4" stroke="#000" stroke-width="1.65" stroke-linecap="round"/>
<line x1="168.7" y1="380.8" x2="164.8" y2="391.5" stroke="#000" stroke-width="1.65" stroke-linecap="round"/>
<line x1="212.5" y1="401.5" x2="208.2" y2="413.1" stroke="#000" stroke-width="1.65" stroke-linecap="round"/>
<line x1="259.6" y1="423.7" x2="255.0" y2="436.3" stroke="#000" stroke-width="1.65" stroke-linecap="round"/>
<line x1="310.5" y1="447.7" x2="305.5" y2="461.3" stroke="#000" stroke-width="1.65" stroke-linecap="round"/>
<line x1="365.4" y1="473.7" x2="360.1" y2="488.2" stroke="#000" stroke-width="1.65" stroke-linecap="round"/>
<line x1="425.0" y1="501.9" x2="419.4" y2="517.3" stroke="#000" stroke-width="1.65" stroke-linecap="round"/>
<line x1="433.0" y1="482.9" x2="443.3" y2="493.8" stroke="#000" stroke-width="1.65" stroke-linecap="round"/>
<line x1="451.0" y1="438.3" x2="460.8" y2="448.8" stroke="#000" stroke-width="1.65" stroke-linecap="round"/>
<line x1="466.7" y1="399.3" x2="476.1" y2="409.3" stroke="#000" stroke-width="1.65" stroke-linecap="round"/>
<line x1="480.6" y1="364.9" x2="489.5" y2="374.4" stroke="#000" stroke-width="1.65" stroke-linecap="round"/>
<line x1="493.0" y1="334.3" x2="501.5" y2="343.3" stroke="#000" stroke-width="1.65" stroke-linecap="round"/>
<line x1="504.0" y1="306.9" x2="512.1" y2="315.4" stroke="#000" stroke-width="1.65" stroke-linecap="round"/>
</g>
<g id="labels" font-family="Liberation Sans, Arial, sans-serif" font-size="23px" fill="#000" stroke="#000" stroke-width="0.35" text-anchor="middle">
<text x="154.7" y="414.4">20</text>
<text x="198.0" y="436.1">25</text>
<text x="245.2" y="459.2">30</text>
<text x="295.8" y="484.4">35</text>
<text x="350.7" y="512.3">40</text>
<text x="409.8" y="541.6">45</text>
<text x="465.4" y="508.8">5</text>
<text x="484.3" y="461.6">10</text>
<text x="499.2" y="419.0">15</text>
<text x="511.9" y="382.3">20</text>
<text x="523.3" y="350.8">25</text>
<text x="534.6" y="321.3">30</text>
<text x="116.8" y="387.4">0.0</text>
<text x="102.9" y="347.2">0.2</text>
<text x="87.1" y="300.8">0.4</text>
<text x="69.1" y="247.4">0.6</text>
<text x="48.6" y="184.9">0.8</text>
<text x="25.7" y="114.4">1.0</text>
<text x="217.6" y="482.0" transform="rotate(24.6 217.6 476.0)">hope of succes</text>
<text x="39.9" y="264.0" transform="rotate(72.6 39.9 258.0)">probability of intake</text>
<text x="527.6" y="436.8" transform="rotate(-69.0 527.6 430.8)" font-size="23.2px">years of playing practise</text>
<text x="31.6" y="44.8" font-size="28.3px">A</text>
</g>
<defs><linearGradient id="jet" x1="0" y1="1" x2="0" y2="0">
<stop offset="0.000" stop-color="rgb(0,0,143)"/>
<stop offset="0.125" stop-color="rgb(0,0,255)"/>
<stop offset="0.375" stop-color="rgb(0,255,255)"/>
<stop offset="0.625" stop-color="rgb(255,255,0)"/>
<stop offset="0.875" stop-color="rgb(255,0,0)"/>
<stop offset="1.000" stop-color="rgb(128,0,0)"/>
</linearGradient></defs>
<g id="key">
<rect x="606.6" y="63" width="18.7" height="429.7" fill="url(#jet)" stroke="#000" stroke-width="1.7"/>
<line x1="625.3" y1="492.7" x2="640.3" y2="492.7" stroke="#000" stroke-width="1.6" stroke-linecap="butt"/>
<line x1="625.3" y1="406.8" x2="640.3" y2="406.8" stroke="#000" stroke-width="1.6" stroke-linecap="butt"/>
<line x1="625.3" y1="320.8" x2="640.3" y2="320.8" stroke="#000" stroke-width="1.6" stroke-linecap="butt"/>
<line x1="625.3" y1="234.9" x2="640.3" y2="234.9" stroke="#000" stroke-width="1.6" stroke-linecap="butt"/>
<line x1="625.3" y1="148.9" x2="640.3" y2="148.9" stroke="#000" stroke-width="1.6" stroke-linecap="butt"/>
<line x1="625.3" y1="63.0" x2="640.3" y2="63.0" stroke="#000" stroke-width="1.6" stroke-linecap="butt"/>
</g>
<g font-family="Liberation Sans, Arial, sans-serif" font-size="23px" fill="#000" stroke="#000" stroke-width="0.35">
<text x="653.6" y="500.8">0.0</text>
<text x="653.6" y="414.9">0.2</text>
<text x="653.6" y="328.9">0.4</text>
<text x="653.6" y="243.0">0.6</text>
<text x="653.6" y="157.0">0.8</text>
<text x="653.6" y="71.1">1.0</text>
</g>
</svg></body></html>
